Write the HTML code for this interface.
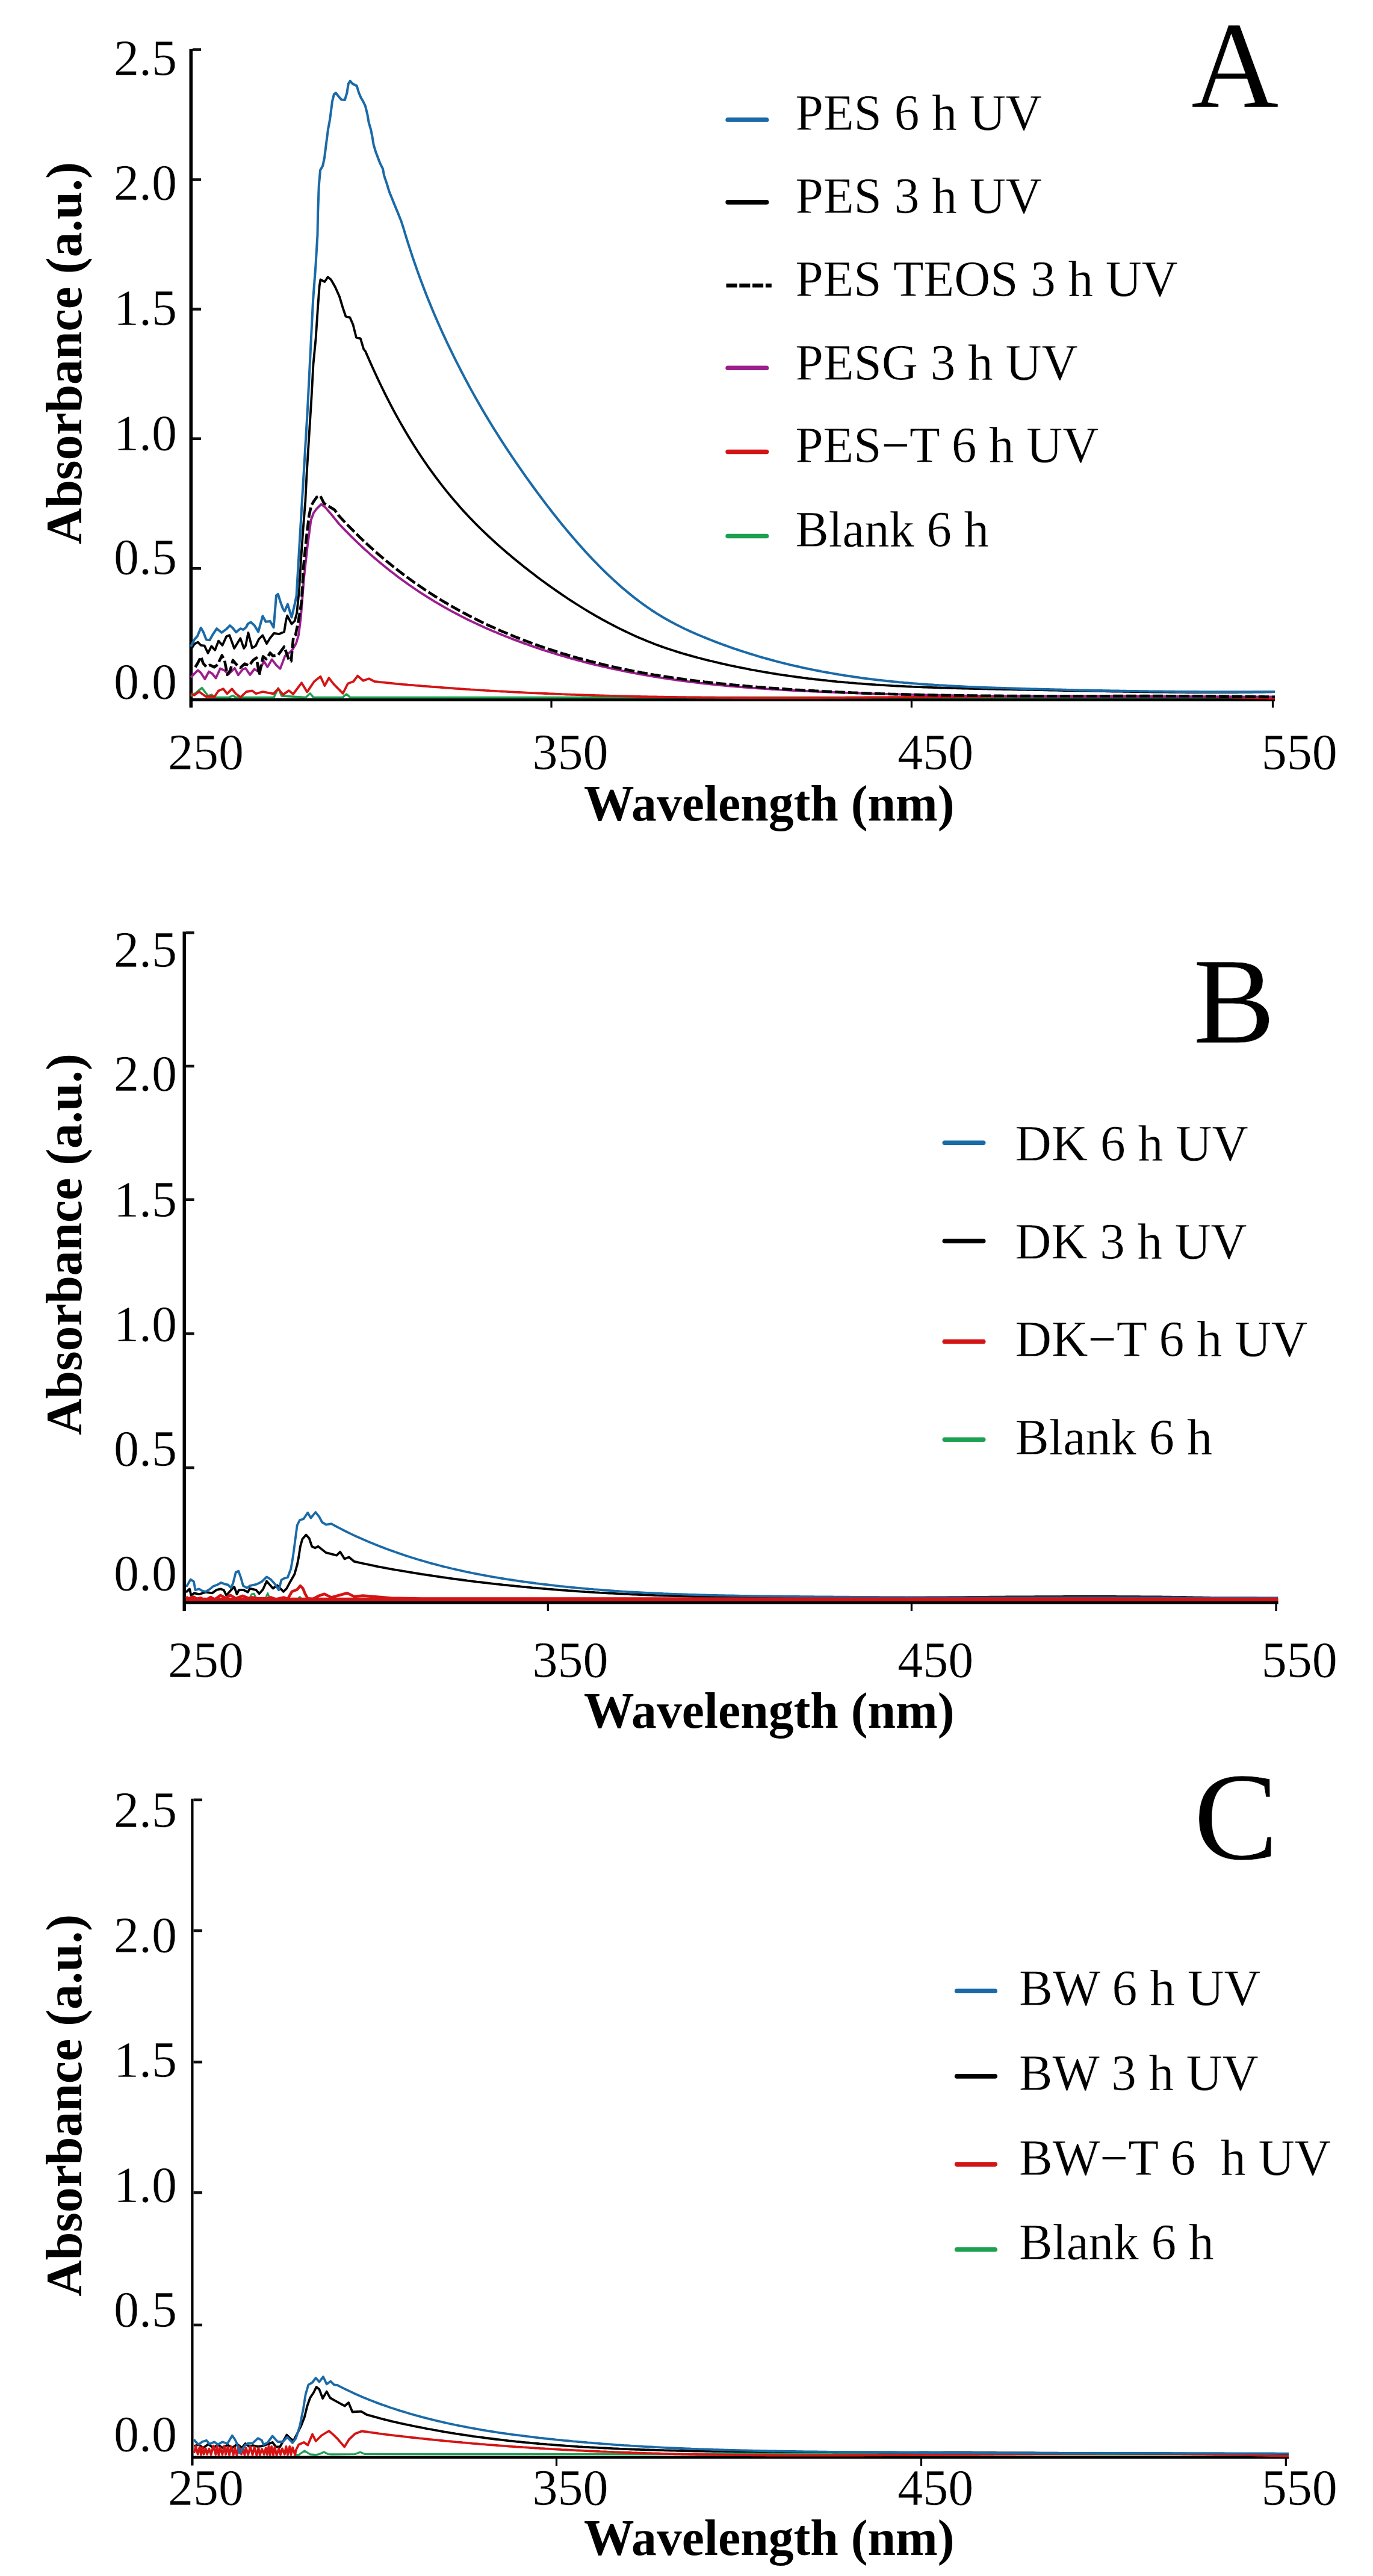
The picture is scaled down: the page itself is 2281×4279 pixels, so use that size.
<!DOCTYPE html>
<html><head><meta charset="utf-8"><title>UV-Vis absorbance spectra</title>
<style>
html,body{margin:0;padding:0;background:#fff;}
body{width:2281px;height:4279px;overflow:hidden;}
svg{display:block;}
text{font-family:"Liberation Serif","Times New Roman",serif;fill:#000;}
text.r{stroke:#fff;stroke-width:0.4px;}
</style></head><body>
<svg width="2281" height="4279" viewBox="0 0 2281 4279">
<rect width="2281" height="4279" fill="#fff"/>
<rect x="314.5" y="81" width="5.5" height="1094.5" fill="#000"/>
<rect x="320" y="80.2" width="14" height="4.6" fill="#111"/>
<rect x="320" y="296.2" width="14" height="4.6" fill="#111"/>
<rect x="320" y="511.2" width="14" height="4.6" fill="#111"/>
<rect x="320" y="726.4" width="14" height="4.6" fill="#111"/>
<rect x="320" y="942" width="14" height="4.6" fill="#111"/>
<rect x="315" y="1160" width="1803" height="5" fill="#000"/>
<rect x="914.4" y="1164.5" width="3.2" height="11" fill="#000"/>
<rect x="1512.8" y="1164.5" width="3.2" height="11" fill="#000"/>
<rect x="2112.9" y="1164.5" width="3.2" height="11" fill="#000"/>
<rect x="303.5" y="1547.5" width="5.5" height="1128.5" fill="#000"/>
<rect x="309" y="1547.2" width="13.6" height="4.6" fill="#111"/>
<rect x="309" y="1768.7" width="13.6" height="4.6" fill="#111"/>
<rect x="309" y="1990.4" width="13.6" height="4.6" fill="#111"/>
<rect x="309" y="2213.2" width="13.6" height="4.6" fill="#111"/>
<rect x="309" y="2435.7" width="13.6" height="4.6" fill="#111"/>
<rect x="304" y="2659.3" width="1819.6" height="5.2" fill="#000"/>
<rect x="908.7" y="2664" width="3.2" height="12" fill="#000"/>
<rect x="1512.8" y="2664" width="3.2" height="12" fill="#000"/>
<rect x="2118.4" y="2664" width="3.2" height="12" fill="#000"/>
<rect x="317.3" y="2987.8" width="4.2" height="1107.7" fill="#000"/>
<rect x="321.5" y="2987.5" width="14.5" height="4.6" fill="#111"/>
<rect x="321.5" y="3204.7" width="14.5" height="4.6" fill="#111"/>
<rect x="321.5" y="3422.9" width="14.5" height="4.6" fill="#111"/>
<rect x="321.5" y="3639.9" width="14.5" height="4.6" fill="#111"/>
<rect x="321.5" y="3859.7" width="14.5" height="4.6" fill="#111"/>
<rect x="318" y="4079.5" width="1823" height="4.7" fill="#000"/>
<rect x="922.9" y="4083.7" width="3.2" height="12.3" fill="#000"/>
<rect x="1528.9" y="4083.7" width="3.2" height="12.3" fill="#000"/>
<rect x="2134.7" y="4083.7" width="3.2" height="12.3" fill="#000"/>
<path d="M317 1156 L324 1152 L330 1147 L335.6 1142.7 L341 1150 L346 1156 L351.7 1153.9 L356 1158.6 L380 1158.6 L386.9 1155.5 L392 1158.6 L455 1158.6 L462.2 1143 L468 1156 L508 1158.6 L515.1 1151.8 L521 1158.6 L569 1158.6 L575.6 1153 L582 1158.6 L2118 1158.6" fill="none" stroke="#1da050" stroke-width="3.5" stroke-linejoin="round" stroke-linecap="butt"/>
<path d="M317 1152 L322.8 1154.7 L330.8 1149 L342 1157 L356.5 1157 L362.9 1147.5 L370.9 1144.3 L377.3 1152.3 L385.3 1144.3 L391.7 1152.3 L399.7 1158.2 L409.3 1149 L419 1147.5 L425.4 1152.3 L436.6 1149 L444.6 1150.7 L454.2 1152.3 L462.2 1144.3 L470.2 1153.9 L480 1147.1 L487 1153 L501 1134.3 L510.3 1149.4 L522 1132 L532.4 1123.8 L539.4 1139 L546.4 1126.1 L554.6 1136.6 L569.7 1151.8 L577.9 1135.5 L587.2 1132 L594.2 1122.6 L603.5 1130.8 L612.9 1127.3 L622.2 1132 L626.2 1132.4 L630.2 1132.9 L634.2 1133.3 L638.2 1133.7 L642.2 1134.1 L646.2 1134.5 L650.2 1134.9 L654.2 1135.3 L658.2 1135.8 L662.2 1136.2 L666.2 1136.5 L670.2 1136.9 L674.2 1137.2 L678.2 1137.6 L682.2 1137.9 L686.2 1138.2 L690.2 1138.6 L694.2 1138.9 L698.2 1139.2 L702.2 1139.6 L706.2 1139.9 L710.2 1140.2 L714.2 1140.5 L718.2 1140.8 L722.2 1141.1 L726.2 1141.4 L730.2 1141.7 L734.2 1142 L738.2 1142.3 L742.2 1142.6 L746.2 1142.9 L750.2 1143.2 L754.2 1143.5 L758.2 1143.8 L762.2 1144 L766.2 1144.3 L770.2 1144.6 L774.2 1144.9 L778.2 1145.1 L782.2 1145.4 L786.2 1145.6 L790.2 1145.9 L794.2 1146.1 L798.2 1146.4 L802.2 1146.6 L806.2 1146.9 L810.2 1147.1 L814.2 1147.4 L818.2 1147.6 L822.2 1147.8 L826.2 1148.1 L830.2 1148.3 L834.2 1148.5 L838.2 1148.7 L842.2 1148.9 L846.2 1149.2 L850.2 1149.4 L854.2 1149.6 L858.2 1149.8 L862.2 1150 L866.2 1150.2 L870.2 1150.4 L874.2 1150.6 L878.2 1150.8 L882.2 1151 L886.2 1151.1 L890.2 1151.3 L894.2 1151.5 L898.2 1151.7 L902.2 1151.9 L906.2 1152 L910.2 1152.2 L914.2 1152.4 L918.2 1152.5 L922.2 1152.7 L926.2 1152.9 L930.2 1153 L934.2 1153.2 L938.2 1153.3 L942.2 1153.5 L946.2 1153.6 L950.2 1153.8 L954.2 1153.9 L958.2 1154.1 L962.2 1154.2 L966.2 1154.3 L970.2 1154.5 L974.2 1154.6 L978.2 1154.7 L982.2 1154.9 L986.2 1155 L990.2 1155.1 L994.2 1155.2 L998.2 1155.4 L1002.2 1155.5 L1006.2 1155.6 L1010.2 1155.7 L1014.2 1155.8 L1018.2 1155.9 L1022.2 1156 L1026.2 1156.1 L1030.2 1156.2 L1034.2 1156.3 L1038.2 1156.4 L1042.2 1156.5 L1046.2 1156.6 L1050.2 1156.7 L1054.2 1156.8 L1058.2 1156.9 L1062.2 1157 L1066.2 1157.1 L1070.2 1157.1 L1074.2 1157.2 L1078.2 1157.3 L1082.2 1157.4 L1086.2 1157.4 L1090.2 1157.5 L1094.2 1157.6 L1098.2 1157.7 L1102.2 1157.7 L1106.2 1157.8 L1110.2 1157.9 L1114.2 1157.9 L1118.2 1158 L1122.2 1158 L1126.2 1158.1 L1130.2 1158.1 L1134.2 1158.2 L1138.2 1158.2 L1142.2 1158.3 L1146.2 1158.3 L1150.2 1158.4 L1154.2 1158.4 L1158.2 1158.5 L1162.2 1158.5 L1166.2 1158.6 L1170.2 1158.6 L1174.2 1158.6 L1178.2 1158.7 L1182.2 1158.7 L1186.2 1158.7 L1190.2 1158.8 L1194.2 1158.8 L1198.2 1158.8 L1202.2 1158.9 L1206.2 1158.9 L1210.2 1158.9 L1214.2 1158.9 L1218.2 1159 L1222.2 1159 L1226.2 1159 L1230.2 1159 L1234.2 1159 L1238.2 1159 L1242.2 1159.1 L1246.2 1159.1 L1250.2 1159.1 L1254.2 1159.1 L1258.2 1159.1 L1262.2 1159.1 L1266.2 1159.1 L1270.2 1159.1 L1274.2 1159.1 L1278.2 1159.1 L1282.2 1159.1 L1286.2 1159.1 L1290.2 1159.1 L1294.2 1159.1 L1298.2 1159.1 L1302.2 1159.1 L1306.2 1159.1 L1310.2 1159.1 L1314.2 1159.1 L1318.2 1159.1 L1322.2 1159.1 L1326.2 1159.1 L1330.2 1159.1 L1334.2 1159.1 L1338.2 1159.1 L1342.2 1159 L1346.2 1159 L1350.2 1159 L1354.2 1159 L1358.2 1159 L1362.2 1159 L1366.2 1158.9 L1370.2 1158.9 L1374.2 1158.9 L1378.2 1158.9 L1382.2 1158.9 L1386.2 1158.9 L1390.2 1158.8 L1394.2 1158.8 L1398.2 1158.8 L1402.2 1158.8 L1406.2 1158.7 L1410.2 1158.7 L1414.2 1158.7 L1418.2 1158.7 L1422.2 1158.6 L1426.2 1158.6 L1430.2 1158.6 L1434.2 1158.6 L1438.2 1158.5 L1442.2 1158.5 L1446.2 1158.5 L1450.2 1158.4 L1454.2 1158.4 L1458.2 1158.4 L1462.2 1158.4 L1466.2 1158.3 L1470.2 1158.3 L1474.2 1158.3 L1478.2 1158.2 L1482.2 1158.2 L1486.2 1158.2 L1490.2 1158.1 L1494.2 1158.1 L1498.2 1158.1 L1502.2 1158 L1506.2 1158 L1510.2 1158 L1514.2 1157.9 L1518.2 1157.9 L1522.2 1157.9 L1526.2 1157.8 L1530.2 1157.8 L1534.2 1157.8 L1538.2 1157.7 L1542.2 1157.7 L1546.2 1157.7 L1550.2 1157.6 L1554.2 1157.6 L1558.2 1157.6 L1562.2 1157.5 L1566.2 1157.5 L1570.2 1157.5 L1574.2 1157.4 L1578.2 1157.4 L1582.2 1157.4 L1586.2 1157.3 L1590.2 1157.3 L1594.2 1157.2 L1598.2 1157.2 L1602.2 1157.2 L1606.2 1157.1 L1610.2 1157.1 L1614.2 1157.1 L1618.2 1157.1 L1622.2 1157 L1626.2 1157 L1630.2 1157 L1634.2 1156.9 L1638.2 1156.9 L1642.2 1156.9 L1646.2 1156.8 L1650.2 1156.8 L1654.2 1156.8 L1658.2 1156.7 L1662.2 1156.7 L1666.2 1156.7 L1670.2 1156.7 L1674.2 1156.6 L1678.2 1156.6 L1682.2 1156.6 L1686.2 1156.6 L1690.2 1156.5 L1694.2 1156.5 L1698.2 1156.5 L1702.2 1156.5 L1706.2 1156.4 L1710.2 1156.4 L1714.2 1156.4 L1718.2 1156.4 L1722.2 1156.3 L1726.2 1156.3 L1730.2 1156.3 L1734.2 1156.3 L1738.2 1156.3 L1742.2 1156.3 L1746.2 1156.2 L1750.2 1156.2 L1754.2 1156.2 L1758.2 1156.2 L1762.2 1156.2 L1766.2 1156.2 L1770.2 1156.2 L1774.2 1156.1 L1778.2 1156.1 L1782.2 1156.1 L1786.2 1156.1 L1790.2 1156.1 L1794.2 1156.1 L1798.2 1156.1 L1802.2 1156.1 L1806.2 1156.1 L1810.2 1156.1 L1814.2 1156.1 L1818.2 1156.1 L1822.2 1156.1 L1826.2 1156.1 L1830.2 1156.1 L1834.2 1156.1 L1838.2 1156.1 L1842.2 1156.1 L1846.2 1156.1 L1850.2 1156.1 L1854.2 1156.1 L1858.2 1156.1 L1862.2 1156.2 L1866.2 1156.2 L1870.2 1156.2 L1874.2 1156.2 L1878.2 1156.2 L1882.2 1156.2 L1886.2 1156.3 L1890.2 1156.3 L1894.2 1156.3 L1898.2 1156.3 L1902.2 1156.4 L1906.2 1156.4 L1910.2 1156.4 L1914.2 1156.4 L1918.2 1156.5 L1922.2 1156.5 L1926.2 1156.5 L1930.2 1156.6 L1934.2 1156.6 L1938.2 1156.7 L1942.2 1156.7 L1946.2 1156.7 L1950.2 1156.8 L1954.2 1156.8 L1958.2 1156.9 L1962.2 1156.9 L1966.2 1157 L1970.2 1157 L1974.2 1157.1 L1978.2 1157.1 L1982.2 1157.2 L1986.2 1157.2 L1990.2 1157.3 L1994.2 1157.4 L1998.2 1157.4 L2002.2 1157.5 L2006.2 1157.6 L2010.2 1157.6 L2014.2 1157.7 L2018.2 1157.8 L2022.2 1157.8 L2026.2 1157.9 L2030.2 1158 L2034.2 1158.1 L2038.2 1158.2 L2042.2 1158.2 L2046.2 1158.3 L2050.2 1158.4 L2054.2 1158.5 L2058.2 1158.6 L2062.2 1158.7 L2066.2 1158.8 L2070.2 1158.9 L2074.2 1159 L2078.2 1159.1 L2082.2 1159.2 L2086.2 1159.3 L2090.2 1159.4 L2094.2 1159.5 L2098.2 1159.6 L2102.2 1159.7 L2106.2 1159.8 L2110.2 1160 L2114.2 1160.1 L2118 1160.2" fill="none" stroke="#d41414" stroke-width="3.8" stroke-linejoin="round"/>
<path d="M317 1125.1 L322.9 1119.2 L328.8 1113.4 L333.8 1117.8 L340.4 1128 L347 1115.6 L352.8 1119.2 L358.6 1126.5 L365.9 1110.5 L372.5 1113.4 L379.7 1120 L389.9 1109.8 L395.8 1121.4 L403 1112 L408 1110 L415.3 1121 L422.6 1111.5 L429.8 1115.9 L438.6 1098.4 L444.4 1107.9 L451.7 1095.5 L459 1104.9 L465.5 1110.8 L473.5 1089.6 L477.9 1086.7 L485.2 1080.2 L491.8 1069.2 L496.1 1054.7 L499.8 1025.5 L505 960 L510.4 910.6 L516.6 864 L521 852 L525.9 845.3 L533.7 837.6 L539.9 842.2 L550.7 854.7 L563.2 870.2 L567.2 874.4 L571.2 878.6 L575.2 882.7 L579.2 886.7 L583.2 890.8 L587.2 894.7 L591.2 898.6 L595.2 902.4 L599.2 906.2 L603.2 910 L607.2 913.6 L611.2 917.2 L615.2 920.8 L619.2 924.3 L623.2 927.7 L627.2 931.1 L631.2 934.5 L635.2 937.8 L639.2 941 L643.2 944.3 L647.2 947.4 L651.2 950.6 L655.2 953.6 L659.2 956.7 L663.2 959.7 L667.2 962.6 L671.2 965.5 L675.2 968.4 L679.2 971.2 L683.2 974 L687.2 976.8 L691.2 979.5 L695.2 982.2 L699.2 984.8 L703.2 987.4 L707.2 989.9 L711.2 992.5 L715.2 994.9 L719.2 997.4 L723.2 999.8 L727.2 1002.2 L731.2 1004.5 L735.2 1006.8 L739.2 1009.1 L743.2 1011.4 L747.2 1013.6 L751.2 1015.8 L755.2 1017.9 L759.2 1020 L763.2 1022.1 L767.2 1024.2 L771.2 1026.2 L775.2 1028.2 L779.2 1030.2 L783.2 1032.1 L787.2 1034 L791.2 1035.9 L795.2 1037.8 L799.2 1039.6 L803.2 1041.4 L807.2 1043.2 L811.2 1045 L815.2 1046.7 L819.2 1048.4 L823.2 1050.1 L827.2 1051.8 L831.2 1053.5 L835.2 1055.1 L839.2 1056.7 L843.2 1058.3 L847.2 1059.8 L851.2 1061.4 L855.2 1062.9 L859.2 1064.4 L863.2 1065.9 L867.2 1067.4 L871.2 1068.9 L875.2 1070.3 L879.2 1071.7 L883.2 1073.1 L887.2 1074.5 L891.2 1075.9 L895.2 1077.2 L899.2 1078.6 L903.2 1079.9 L907.2 1081.2 L911.2 1082.5 L915.2 1083.7 L919.2 1085 L923.2 1086.2 L927.2 1087.4 L931.2 1088.6 L935.2 1089.8 L939.2 1091 L943.2 1092.1 L947.2 1093.3 L951.2 1094.4 L955.2 1095.5 L959.2 1096.6 L963.2 1097.7 L967.2 1098.7 L971.2 1099.8 L975.2 1100.8 L979.2 1101.8 L983.2 1102.8 L987.2 1103.8 L991.2 1104.8 L995.2 1105.7 L999.2 1106.7 L1003.2 1107.6 L1007.2 1108.5 L1011.2 1109.4 L1015.2 1110.3 L1019.2 1111.2 L1023.2 1112 L1027.2 1112.9 L1031.2 1113.7 L1035.2 1114.5 L1039.2 1115.3 L1043.2 1116.1 L1047.2 1116.9 L1051.2 1117.7 L1055.2 1118.4 L1059.2 1119.2 L1063.2 1119.9 L1067.2 1120.6 L1071.2 1121.3 L1075.2 1122 L1079.2 1122.7 L1083.2 1123.4 L1087.2 1124 L1091.2 1124.7 L1095.2 1125.3 L1099.2 1125.9 L1103.2 1126.6 L1107.2 1127.2 L1111.2 1127.8 L1115.2 1128.3 L1119.2 1128.9 L1123.2 1129.5 L1127.2 1130 L1131.2 1130.6 L1135.2 1131.1 L1139.2 1131.6 L1143.2 1132.1 L1147.2 1132.6 L1151.2 1133.1 L1155.2 1133.6 L1159.2 1134.1 L1163.2 1134.6 L1167.2 1135 L1171.2 1135.5 L1175.2 1135.9 L1179.2 1136.3 L1183.2 1136.8 L1187.2 1137.2 L1191.2 1137.6 L1195.2 1138 L1199.2 1138.4 L1203.2 1138.8 L1207.2 1139.1 L1211.2 1139.5 L1215.2 1139.9 L1219.2 1140.2 L1223.2 1140.6 L1227.2 1140.9 L1231.2 1141.2 L1235.2 1141.5 L1239.2 1141.9 L1243.2 1142.2 L1247.2 1142.5 L1251.2 1142.8 L1255.2 1143.1 L1259.2 1143.4 L1263.2 1143.6 L1267.2 1143.9 L1271.2 1144.2 L1275.2 1144.4 L1279.2 1144.7 L1283.2 1145 L1287.2 1145.2 L1291.2 1145.4 L1295.2 1145.7 L1299.2 1145.9 L1303.2 1146.1 L1307.2 1146.4 L1311.2 1146.6 L1315.2 1146.8 L1319.2 1147 L1323.2 1147.2 L1327.2 1147.4 L1331.2 1147.6 L1335.2 1147.8 L1339.2 1148 L1343.2 1148.2 L1347.2 1148.4 L1351.2 1148.5 L1355.2 1148.7 L1359.2 1148.9 L1363.2 1149.1 L1367.2 1149.2 L1371.2 1149.4 L1375.2 1149.6 L1379.2 1149.7 L1383.2 1149.9 L1387.2 1150 L1391.2 1150.2 L1395.2 1150.3 L1399.2 1150.5 L1403.2 1150.6 L1407.2 1150.8 L1411.2 1150.9 L1415.2 1151.1 L1419.2 1151.2 L1423.2 1151.4 L1427.2 1151.5 L1431.2 1151.6 L1435.2 1151.8 L1439.2 1151.9 L1443.2 1152 L1447.2 1152.1 L1451.2 1152.3 L1455.2 1152.4 L1459.2 1152.5 L1463.2 1152.6 L1467.2 1152.7 L1471.2 1152.8 L1475.2 1152.9 L1479.2 1153.1 L1483.2 1153.2 L1487.2 1153.3 L1491.2 1153.4 L1495.2 1153.5 L1499.2 1153.6 L1503.2 1153.7 L1507.2 1153.8 L1511.2 1153.9 L1515.2 1153.9 L1519.2 1154 L1523.2 1154.1 L1527.2 1154.2 L1531.2 1154.3 L1535.2 1154.4 L1539.2 1154.5 L1543.2 1154.5 L1547.2 1154.6 L1551.2 1154.7 L1555.2 1154.8 L1559.2 1154.8 L1563.2 1154.9 L1567.2 1155 L1571.2 1155.1 L1575.2 1155.1 L1579.2 1155.2 L1583.2 1155.2 L1587.2 1155.3 L1591.2 1155.4 L1595.2 1155.4 L1599.2 1155.5 L1603.2 1155.6 L1607.2 1155.6 L1611.2 1155.7 L1615.2 1155.7 L1619.2 1155.8 L1623.2 1155.8 L1627.2 1155.9 L1631.2 1155.9 L1635.2 1156 L1639.2 1156 L1643.2 1156 L1647.2 1156.1 L1651.2 1156.1 L1655.2 1156.2 L1659.2 1156.2 L1663.2 1156.3 L1667.2 1156.3 L1671.2 1156.3 L1675.2 1156.4 L1679.2 1156.4 L1683.2 1156.4 L1687.2 1156.5 L1691.2 1156.5 L1695.2 1156.5 L1699.2 1156.6 L1703.2 1156.6 L1707.2 1156.6 L1711.2 1156.6 L1715.2 1156.7 L1719.2 1156.7 L1723.2 1156.7 L1727.2 1156.7 L1731.2 1156.7 L1735.2 1156.8 L1739.2 1156.8 L1743.2 1156.8 L1747.2 1156.8 L1751.2 1156.8 L1755.2 1156.9 L1759.2 1156.9 L1763.2 1156.9 L1767.2 1156.9 L1771.2 1156.9 L1775.2 1156.9 L1779.2 1156.9 L1783.2 1157 L1787.2 1157 L1791.2 1157 L1795.2 1157 L1799.2 1157 L1803.2 1157 L1807.2 1157 L1811.2 1157 L1815.2 1157 L1819.2 1157 L1823.2 1157.1 L1827.2 1157.1 L1831.2 1157.1 L1835.2 1157.1 L1839.2 1157.1 L1843.2 1157.1 L1847.2 1157.1 L1851.2 1157.1 L1855.2 1157.1 L1859.2 1157.1 L1863.2 1157.1 L1867.2 1157.1 L1871.2 1157.1 L1875.2 1157.1 L1879.2 1157.1 L1883.2 1157.1 L1887.2 1157.1 L1891.2 1157.1 L1895.2 1157.1 L1899.2 1157.1 L1903.2 1157.1 L1907.2 1157.1 L1911.2 1157.1 L1915.2 1157.1 L1919.2 1157.1 L1923.2 1157.1 L1927.2 1157.1 L1931.2 1157.1 L1935.2 1157.1 L1939.2 1157.1 L1943.2 1157.1 L1947.2 1157.1 L1951.2 1157.1 L1955.2 1157.1 L1959.2 1157.1 L1963.2 1157.1 L1967.2 1157.1 L1971.2 1157.1 L1975.2 1157.1 L1979.2 1157.1 L1983.2 1157.1 L1987.2 1157.1 L1991.2 1157.1 L1995.2 1157.2 L1999.2 1157.2 L2003.2 1157.2 L2007.2 1157.2 L2011.2 1157.2 L2015.2 1157.2 L2019.2 1157.2 L2023.2 1157.2 L2027.2 1157.2 L2031.2 1157.2 L2035.2 1157.2 L2039.2 1157.2 L2043.2 1157.2 L2047.2 1157.2 L2051.2 1157.2 L2055.2 1157.2 L2059.2 1157.3 L2063.2 1157.3 L2067.2 1157.3 L2071.2 1157.3 L2075.2 1157.3 L2079.2 1157.3 L2083.2 1157.3 L2087.2 1157.3 L2091.2 1157.4 L2095.2 1157.4 L2099.2 1157.4 L2103.2 1157.4 L2107.2 1157.4 L2111.2 1157.4 L2115.2 1157.5 L2118 1157.5" fill="none" stroke="#9c1e8c" stroke-width="3.8" stroke-linejoin="round"/>
<path d="M324.4 1108.3 L328.8 1101 L333.8 1090.8 L337.5 1101.8 L342.6 1107.6 L349.1 1104.7 L355.7 1108.3 L361.5 1104 L368.8 1088.7 L373.2 1097.4 L377.6 1120.7 L382.6 1113.4 L387 1096.7 L392.1 1103.2 L399.4 1109 L406.7 1102.5 L413.8 1105.7 L420.4 1096.9 L426.2 1092.6 L430.6 1121 L437.1 1090.4 L442.2 1094.7 L448.8 1084.5 L453.2 1089.6 L461.9 1088.2 L472.1 1074.3 L480.1 1096.2 L483.7 1098.4 L487.4 1058.3 L491 1054.7 L496 1030 L501 1000 L504.2 941.6 L508.8 895 L513.5 856.2 L517 840 L521.2 832.9 L526 826 L532.1 823.6 L538.3 836 L550.7 843.8 L556 847 L562.7 856.4 L566.7 860.7 L570.7 865 L574.7 869.2 L578.7 873.3 L582.7 877.4 L586.7 881.4 L590.7 885.4 L594.7 889.4 L598.7 893.3 L602.7 897.1 L606.7 900.9 L610.7 904.6 L614.7 908.2 L618.7 911.8 L622.7 915.4 L626.7 918.9 L630.7 922.4 L634.7 925.8 L638.7 929.1 L642.7 932.5 L646.7 935.8 L650.7 939 L654.7 942.2 L658.7 945.4 L662.7 948.5 L666.7 951.6 L670.7 954.6 L674.7 957.6 L678.7 960.5 L682.7 963.4 L686.7 966.3 L690.7 969.1 L694.7 971.9 L698.7 974.7 L702.7 977.4 L706.7 980.1 L710.7 982.7 L714.7 985.4 L718.7 987.9 L722.7 990.5 L726.7 993 L730.7 995.4 L734.7 997.9 L738.7 1000.3 L742.7 1002.6 L746.7 1005 L750.7 1007.3 L754.7 1009.5 L758.7 1011.8 L762.7 1014 L766.7 1016.2 L770.7 1018.3 L774.7 1020.4 L778.7 1022.5 L782.7 1024.6 L786.7 1026.6 L790.7 1028.6 L794.7 1030.6 L798.7 1032.6 L802.7 1034.5 L806.7 1036.4 L810.7 1038.3 L814.7 1040.1 L818.7 1041.9 L822.7 1043.7 L826.7 1045.5 L830.7 1047.3 L834.7 1049 L838.7 1050.7 L842.7 1052.4 L846.7 1054 L850.7 1055.7 L854.7 1057.3 L858.7 1058.9 L862.7 1060.5 L866.7 1062 L870.7 1063.6 L874.7 1065.1 L878.7 1066.6 L882.7 1068.1 L886.7 1069.5 L890.7 1071 L894.7 1072.4 L898.7 1073.8 L902.7 1075.2 L906.7 1076.6 L910.7 1077.9 L914.7 1079.2 L918.7 1080.5 L922.7 1081.8 L926.7 1083.1 L930.7 1084.3 L934.7 1085.6 L938.7 1086.8 L942.7 1088 L946.7 1089.2 L950.7 1090.3 L954.7 1091.5 L958.7 1092.6 L962.7 1093.7 L966.7 1094.8 L970.7 1095.9 L974.7 1097 L978.7 1098 L982.7 1099.1 L986.7 1100.1 L990.7 1101.1 L994.7 1102.1 L998.7 1103 L1002.7 1104 L1006.7 1104.9 L1010.7 1105.9 L1014.7 1106.8 L1018.7 1107.7 L1022.7 1108.6 L1026.7 1109.4 L1030.7 1110.3 L1034.7 1111.1 L1038.7 1112 L1042.7 1112.8 L1046.7 1113.6 L1050.7 1114.4 L1054.7 1115.1 L1058.7 1115.9 L1062.7 1116.6 L1066.7 1117.4 L1070.7 1118.1 L1074.7 1118.8 L1078.7 1119.5 L1082.7 1120.2 L1086.7 1120.9 L1090.7 1121.5 L1094.7 1122.2 L1098.7 1122.8 L1102.7 1123.5 L1106.7 1124.1 L1110.7 1124.7 L1114.7 1125.3 L1118.7 1125.9 L1122.7 1126.5 L1126.7 1127 L1130.7 1127.6 L1134.7 1128.1 L1138.7 1128.7 L1142.7 1129.2 L1146.7 1129.7 L1150.7 1130.2 L1154.7 1130.7 L1158.7 1131.2 L1162.7 1131.7 L1166.7 1132.2 L1170.7 1132.7 L1174.7 1133.1 L1178.7 1133.6 L1182.7 1134 L1186.7 1134.5 L1190.7 1134.9 L1194.7 1135.3 L1198.7 1135.7 L1202.7 1136.1 L1206.7 1136.5 L1210.7 1136.9 L1214.7 1137.3 L1218.7 1137.7 L1222.7 1138.1 L1226.7 1138.4 L1230.7 1138.8 L1234.7 1139.1 L1238.7 1139.5 L1242.7 1139.8 L1246.7 1140.2 L1250.7 1140.5 L1254.7 1140.8 L1258.7 1141.2 L1262.7 1141.5 L1266.7 1141.8 L1270.7 1142.1 L1274.7 1142.4 L1278.7 1142.7 L1282.7 1143 L1286.7 1143.3 L1290.7 1143.6 L1294.7 1143.9 L1298.7 1144.2 L1302.7 1144.4 L1306.7 1144.7 L1310.7 1145 L1314.7 1145.2 L1318.7 1145.5 L1322.7 1145.8 L1326.7 1146 L1330.7 1146.2 L1334.7 1146.5 L1338.7 1146.7 L1342.7 1147 L1346.7 1147.2 L1350.7 1147.4 L1354.7 1147.7 L1358.7 1147.9 L1362.7 1148.1 L1366.7 1148.3 L1370.7 1148.5 L1374.7 1148.7 L1378.7 1148.9 L1382.7 1149.1 L1386.7 1149.3 L1390.7 1149.5 L1394.7 1149.7 L1398.7 1149.9 L1402.7 1150.1 L1406.7 1150.2 L1410.7 1150.4 L1414.7 1150.6 L1418.7 1150.7 L1422.7 1150.9 L1426.7 1151.1 L1430.7 1151.2 L1434.7 1151.4 L1438.7 1151.5 L1442.7 1151.7 L1446.7 1151.8 L1450.7 1152 L1454.7 1152.1 L1458.7 1152.2 L1462.7 1152.4 L1466.7 1152.5 L1470.7 1152.6 L1474.7 1152.7 L1478.7 1152.9 L1482.7 1153 L1486.7 1153.1 L1490.7 1153.2 L1494.7 1153.3 L1498.7 1153.4 L1502.7 1153.5 L1506.7 1153.6 L1510.7 1153.7 L1514.7 1153.8 L1518.7 1153.9 L1522.7 1154 L1526.7 1154.1 L1530.7 1154.2 L1534.7 1154.3 L1538.7 1154.4 L1542.7 1154.5 L1546.7 1154.5 L1550.7 1154.6 L1554.7 1154.7 L1558.7 1154.8 L1562.7 1154.8 L1566.7 1154.9 L1570.7 1155 L1574.7 1155 L1578.7 1155.1 L1582.7 1155.1 L1586.7 1155.2 L1590.7 1155.2 L1594.7 1155.3 L1598.7 1155.3 L1602.7 1155.4 L1606.7 1155.4 L1610.7 1155.5 L1614.7 1155.5 L1618.7 1155.6 L1622.7 1155.6 L1626.7 1155.7 L1630.7 1155.7 L1634.7 1155.7 L1638.7 1155.8 L1642.7 1155.8 L1646.7 1155.8 L1650.7 1155.9 L1654.7 1155.9 L1658.7 1155.9 L1662.7 1155.9 L1666.7 1156 L1670.7 1156 L1674.7 1156 L1678.7 1156 L1682.7 1156 L1686.7 1156.1 L1690.7 1156.1 L1694.7 1156.1 L1698.7 1156.1 L1702.7 1156.1 L1706.7 1156.1 L1710.7 1156.1 L1714.7 1156.2 L1718.7 1156.2 L1722.7 1156.2 L1726.7 1156.2 L1730.7 1156.2 L1734.7 1156.2 L1738.7 1156.2 L1742.7 1156.2 L1746.7 1156.2 L1750.7 1156.2 L1754.7 1156.2 L1758.7 1156.2 L1762.7 1156.2 L1766.7 1156.2 L1770.7 1156.2 L1774.7 1156.2 L1778.7 1156.2 L1782.7 1156.2 L1786.7 1156.2 L1790.7 1156.2 L1794.7 1156.2 L1798.7 1156.2 L1802.7 1156.2 L1806.7 1156.2 L1810.7 1156.2 L1814.7 1156.2 L1818.7 1156.2 L1822.7 1156.2 L1826.7 1156.2 L1830.7 1156.2 L1834.7 1156.2 L1838.7 1156.2 L1842.7 1156.2 L1846.7 1156.2 L1850.7 1156.1 L1854.7 1156.1 L1858.7 1156.1 L1862.7 1156.1 L1866.7 1156.1 L1870.7 1156.1 L1874.7 1156.1 L1878.7 1156.1 L1882.7 1156.1 L1886.7 1156.1 L1890.7 1156.1 L1894.7 1156.1 L1898.7 1156.1 L1902.7 1156.1 L1906.7 1156.1 L1910.7 1156.1 L1914.7 1156.1 L1918.7 1156.1 L1922.7 1156.1 L1926.7 1156.1 L1930.7 1156.1 L1934.7 1156.1 L1938.7 1156.2 L1942.7 1156.2 L1946.7 1156.2 L1950.7 1156.2 L1954.7 1156.2 L1958.7 1156.2 L1962.7 1156.2 L1966.7 1156.2 L1970.7 1156.2 L1974.7 1156.3 L1978.7 1156.3 L1982.7 1156.3 L1986.7 1156.3 L1990.7 1156.3 L1994.7 1156.3 L1998.7 1156.4 L2002.7 1156.4 L2006.7 1156.4 L2010.7 1156.4 L2014.7 1156.5 L2018.7 1156.5 L2022.7 1156.5 L2026.7 1156.6 L2030.7 1156.6 L2034.7 1156.6 L2038.7 1156.7 L2042.7 1156.7 L2046.7 1156.8 L2050.7 1156.8 L2054.7 1156.8 L2058.7 1156.9 L2062.7 1156.9 L2066.7 1157 L2070.7 1157 L2074.7 1157.1 L2078.7 1157.1 L2082.7 1157.2 L2086.7 1157.3 L2090.7 1157.3 L2094.7 1157.4 L2098.7 1157.4 L2102.7 1157.5 L2106.7 1157.6 L2110.7 1157.7 L2114.7 1157.7 L2118 1157.8" fill="none" stroke="#000" stroke-width="4.6" stroke-linejoin="round" stroke-dasharray="17 5"/>
<path d="M317 1079.2 L322.9 1069.7 L328.8 1066.8 L333.8 1071.9 L339.7 1072.6 L345.5 1085 L351.3 1073.4 L357.2 1079.9 L363 1064.6 L369.5 1071.9 L376.1 1057.3 L381.2 1055.2 L389.2 1077 L399.4 1060.3 L405.2 1077 L408 1073 L412.4 1051 L418.9 1076.5 L424.8 1072.9 L429.8 1062 L436.4 1055.4 L443 1069.2 L448.8 1059.8 L455.3 1051.8 L463.4 1053.2 L472.1 1049.6 L475 1031.4 L477.2 1022.6 L484.5 1036.5 L489.6 1031.4 L493.2 1018.3 L497 980 L500 930 L503.5 880 L507.3 832.9 L509.6 786.3 L513.5 724.2 L517.4 662.1 L520.5 605 L524.6 562.4 L528.1 509.9 L530.7 475 L532.4 464.5 L539.4 468 L544.7 460.1 L549.9 464.5 L556.9 476.7 L563.9 492.4 L569.1 509.9 L574.4 525.7 L581.4 527.4 L586.6 539.6 L591.9 560.6 L598.9 562.4 L604.1 579.8 L607.3 583.9 L611.3 593.2 L615.3 602.3 L619.3 611.2 L623.3 620 L627.3 628.6 L631.3 637 L635.3 645.3 L639.3 653.4 L643.3 661.3 L647.3 669.2 L651.3 676.8 L655.3 684.3 L659.3 691.6 L663.3 698.8 L667.3 705.8 L671.3 712.8 L675.3 719.6 L679.3 726.2 L683.3 732.8 L687.3 739.2 L691.3 745.5 L695.3 751.7 L699.3 757.7 L703.3 763.7 L707.3 769.5 L711.3 775.3 L715.3 780.9 L719.3 786.4 L723.3 791.9 L727.3 797.2 L731.3 802.4 L735.3 807.6 L739.3 812.6 L743.3 817.6 L747.3 822.5 L751.3 827.3 L755.3 832 L759.3 836.6 L763.3 841.2 L767.3 845.7 L771.3 850.1 L775.3 854.4 L779.3 858.7 L783.3 862.9 L787.3 867 L791.3 871.1 L795.3 875.1 L799.3 879 L803.3 882.9 L807.3 886.7 L811.3 890.5 L815.3 894.2 L819.3 897.9 L823.3 901.5 L827.3 905.1 L831.3 908.6 L835.3 912.1 L839.3 915.5 L843.3 919 L847.3 922.3 L851.3 925.7 L855.3 929 L859.3 932.2 L863.3 935.5 L867.3 938.7 L871.3 941.9 L875.3 945 L879.3 948.2 L883.3 951.3 L887.3 954.3 L891.3 957.4 L895.3 960.4 L899.3 963.4 L903.3 966.3 L907.3 969.2 L911.3 972.1 L915.3 975 L919.3 977.8 L923.3 980.6 L927.3 983.4 L931.3 986.1 L935.3 988.9 L939.3 991.5 L943.3 994.2 L947.3 996.8 L951.3 999.4 L955.3 1002 L959.3 1004.5 L963.3 1007 L967.3 1009.5 L971.3 1012 L975.3 1014.4 L979.3 1016.8 L983.3 1019.1 L987.3 1021.5 L991.3 1023.8 L995.3 1026 L999.3 1028.3 L1003.3 1030.5 L1007.3 1032.6 L1011.3 1034.8 L1015.3 1036.9 L1019.3 1039 L1023.3 1041.1 L1027.3 1043.1 L1031.3 1045.1 L1035.3 1047 L1039.3 1049 L1043.3 1050.9 L1047.3 1052.7 L1051.3 1054.6 L1055.3 1056.4 L1059.3 1058.2 L1063.3 1059.9 L1067.3 1061.6 L1071.3 1063.3 L1075.3 1064.9 L1079.3 1066.5 L1083.3 1068.1 L1087.3 1069.7 L1091.3 1071.2 L1095.3 1072.6 L1099.3 1074.1 L1103.3 1075.5 L1107.3 1076.9 L1111.3 1078.2 L1115.3 1079.5 L1119.3 1080.8 L1123.3 1082.1 L1127.3 1083.4 L1131.3 1084.6 L1135.3 1085.8 L1139.3 1086.9 L1143.3 1088.1 L1147.3 1089.2 L1151.3 1090.3 L1155.3 1091.4 L1159.3 1092.5 L1163.3 1093.5 L1167.3 1094.6 L1171.3 1095.6 L1175.3 1096.6 L1179.3 1097.6 L1183.3 1098.5 L1187.3 1099.5 L1191.3 1100.4 L1195.3 1101.4 L1199.3 1102.3 L1203.3 1103.2 L1207.3 1104.1 L1211.3 1105 L1215.3 1105.8 L1219.3 1106.7 L1223.3 1107.5 L1227.3 1108.3 L1231.3 1109.2 L1235.3 1109.9 L1239.3 1110.7 L1243.3 1111.5 L1247.3 1112.3 L1251.3 1113 L1255.3 1113.7 L1259.3 1114.5 L1263.3 1115.2 L1267.3 1115.9 L1271.3 1116.6 L1275.3 1117.2 L1279.3 1117.9 L1283.3 1118.6 L1287.3 1119.2 L1291.3 1119.8 L1295.3 1120.5 L1299.3 1121.1 L1303.3 1121.7 L1307.3 1122.2 L1311.3 1122.8 L1315.3 1123.4 L1319.3 1123.9 L1323.3 1124.5 L1327.3 1125 L1331.3 1125.5 L1335.3 1126.1 L1339.3 1126.6 L1343.3 1127.1 L1347.3 1127.5 L1351.3 1128 L1355.3 1128.5 L1359.3 1128.9 L1363.3 1129.4 L1367.3 1129.8 L1371.3 1130.2 L1375.3 1130.7 L1379.3 1131.1 L1383.3 1131.5 L1387.3 1131.9 L1391.3 1132.3 L1395.3 1132.6 L1399.3 1133 L1403.3 1133.4 L1407.3 1133.7 L1411.3 1134.1 L1415.3 1134.4 L1419.3 1134.7 L1423.3 1135.1 L1427.3 1135.4 L1431.3 1135.7 L1435.3 1136 L1439.3 1136.3 L1443.3 1136.6 L1447.3 1136.8 L1451.3 1137.1 L1455.3 1137.4 L1459.3 1137.6 L1463.3 1137.9 L1467.3 1138.1 L1471.3 1138.4 L1475.3 1138.6 L1479.3 1138.8 L1483.3 1139.1 L1487.3 1139.3 L1491.3 1139.5 L1495.3 1139.7 L1499.3 1139.9 L1503.3 1140.1 L1507.3 1140.3 L1511.3 1140.5 L1515.3 1140.7 L1519.3 1140.8 L1523.3 1141 L1527.3 1141.2 L1531.3 1141.3 L1535.3 1141.5 L1539.3 1141.6 L1543.3 1141.8 L1547.3 1141.9 L1551.3 1142.1 L1555.3 1142.2 L1559.3 1142.3 L1563.3 1142.5 L1567.3 1142.6 L1571.3 1142.7 L1575.3 1142.9 L1579.3 1143 L1583.3 1143.1 L1587.3 1143.2 L1591.3 1143.3 L1595.3 1143.4 L1599.3 1143.5 L1603.3 1143.6 L1607.3 1143.7 L1611.3 1143.8 L1615.3 1143.9 L1619.3 1144 L1623.3 1144.1 L1627.3 1144.2 L1631.3 1144.3 L1635.3 1144.3 L1639.3 1144.4 L1643.3 1144.5 L1647.3 1144.6 L1651.3 1144.7 L1655.3 1144.8 L1659.3 1144.8 L1663.3 1144.9 L1667.3 1145 L1671.3 1145.1 L1675.3 1145.1 L1679.3 1145.2 L1683.3 1145.3 L1687.3 1145.4 L1691.3 1145.5 L1695.3 1145.5 L1699.3 1145.6 L1703.3 1145.7 L1707.3 1145.8 L1711.3 1145.8 L1715.3 1145.9 L1719.3 1146 L1723.3 1146.1 L1727.3 1146.2 L1731.3 1146.2 L1735.3 1146.3 L1739.3 1146.4 L1743.3 1146.5 L1747.3 1146.6 L1751.3 1146.6 L1755.3 1146.7 L1759.3 1146.8 L1763.3 1146.9 L1767.3 1147 L1771.3 1147 L1775.3 1147.1 L1779.3 1147.2 L1783.3 1147.3 L1787.3 1147.3 L1791.3 1147.4 L1795.3 1147.5 L1799.3 1147.6 L1803.3 1147.7 L1807.3 1147.7 L1811.3 1147.8 L1815.3 1147.9 L1819.3 1148 L1823.3 1148 L1827.3 1148.1 L1831.3 1148.2 L1835.3 1148.2 L1839.3 1148.3 L1843.3 1148.4 L1847.3 1148.5 L1851.3 1148.5 L1855.3 1148.6 L1859.3 1148.7 L1863.3 1148.7 L1867.3 1148.8 L1871.3 1148.8 L1875.3 1148.9 L1879.3 1149 L1883.3 1149 L1887.3 1149.1 L1891.3 1149.1 L1895.3 1149.2 L1899.3 1149.3 L1903.3 1149.3 L1907.3 1149.4 L1911.3 1149.4 L1915.3 1149.5 L1919.3 1149.5 L1923.3 1149.6 L1927.3 1149.6 L1931.3 1149.6 L1935.3 1149.7 L1939.3 1149.7 L1943.3 1149.8 L1947.3 1149.8 L1951.3 1149.8 L1955.3 1149.9 L1959.3 1149.9 L1963.3 1149.9 L1967.3 1149.9 L1971.3 1150 L1975.3 1150 L1979.3 1150 L1983.3 1150 L1987.3 1150.1 L1991.3 1150.1 L1995.3 1150.1 L1999.3 1150.1 L2003.3 1150.1 L2007.3 1150.1 L2011.3 1150.1 L2015.3 1150.1 L2019.3 1150.1 L2023.3 1150.1 L2027.3 1150.1 L2031.3 1150.1 L2035.3 1150.1 L2039.3 1150.1 L2043.3 1150 L2047.3 1150 L2051.3 1150 L2055.3 1150 L2059.3 1149.9 L2063.3 1149.9 L2067.3 1149.9 L2071.3 1149.8 L2075.3 1149.8 L2079.3 1149.8 L2083.3 1149.7 L2087.3 1149.7 L2091.3 1149.6 L2095.3 1149.6 L2099.3 1149.5 L2103.3 1149.4 L2107.3 1149.4 L2111.3 1149.3 L2115.3 1149.2 L2118 1149.2" fill="none" stroke="#000" stroke-width="3.8" stroke-linejoin="round"/>
<path d="M317 1074 L322.9 1062.4 L328 1056.6 L333.8 1042.8 L338.2 1050.8 L342.6 1062.4 L348.4 1063.2 L352.8 1055.2 L360.1 1044.2 L368.1 1050.8 L376.1 1045 L381.9 1039.1 L387 1043.5 L392.1 1050.1 L399.4 1044.2 L404 1046 L408.9 1042 L411.6 1036.5 L416.7 1033.6 L422.6 1038.7 L429.1 1049.6 L436.4 1023.4 L441.5 1032.8 L448.8 1032.1 L454.6 1042.3 L459 989.1 L461.9 986.9 L465.5 998.6 L469.9 1011 L472.8 1015.4 L477.9 1003.7 L484.5 1025.5 L489.6 1003.7 L492.5 990 L497.2 910.6 L501.8 832.9 L506.5 755.3 L511.1 677.6 L515 600 L520 500 L524.5 440 L527.5 390 L528.1 354.7 L529.8 308.1 L532.1 282.5 L536.2 275.5 L539.1 261.5 L542 238.2 L545 214.9 L547.3 203.2 L549 191.6 L552 168.3 L554.9 156.6 L557.8 154.3 L562.4 160.1 L567.1 165.4 L572.9 165.9 L576.4 154.3 L578.8 139.1 L581.7 134.5 L585.7 139.1 L592.7 142.6 L596.2 154.3 L599.7 162.4 L603.2 168.3 L606.7 175.3 L610.2 189.2 L612.6 203.2 L616 214.9 L618.4 226.5 L620.7 240.5 L624.2 252.2 L627.7 261.5 L631.2 270.8 L635.9 280.1 L638.2 291.8 L642.9 305.8 L646.3 317.4 L651 329.1 L655.7 340.7 L661.5 354.7 L666.2 366.4 L670 378 L674 391.3 L678 404.1 L682 416.5 L686 428.6 L690 440.2 L694 451.6 L698 462.6 L702 473.3 L706 483.7 L710 493.9 L714 503.8 L718 513.5 L722 523 L726 532.2 L730 541.3 L734 550.2 L738 558.9 L742 567.5 L746 575.9 L750 584.2 L754 592.3 L758 600.3 L762 608.2 L766 616 L770 623.7 L774 631.3 L778 638.8 L782 646.1 L786 653.4 L790 660.5 L794 667.6 L798 674.5 L802 681.4 L806 688.2 L810 694.9 L814 701.5 L818 708 L822 714.5 L826 720.8 L830 727.1 L834 733.4 L838 739.5 L842 745.6 L846 751.6 L850 757.6 L854 763.5 L858 769.4 L862 775.2 L866 780.9 L870 786.6 L874 792.3 L878 797.9 L882 803.5 L886 809 L890 814.5 L894 819.9 L898 825.3 L902 830.6 L906 835.9 L910 841.1 L914 846.3 L918 851.5 L922 856.5 L926 861.6 L930 866.5 L934 871.5 L938 876.3 L942 881.2 L946 885.9 L950 890.6 L954 895.3 L958 899.9 L962 904.5 L966 908.9 L970 913.4 L974 917.8 L978 922.1 L982 926.3 L986 930.6 L990 934.7 L994 938.8 L998 942.8 L1002 946.8 L1006 950.7 L1010 954.6 L1014 958.3 L1018 962.1 L1022 965.7 L1026 969.3 L1030 972.9 L1034 976.4 L1038 979.8 L1042 983.1 L1046 986.4 L1050 989.7 L1054 992.8 L1058 995.9 L1062 999 L1066 1001.9 L1070 1004.8 L1074 1007.7 L1078 1010.4 L1082 1013.2 L1086 1015.8 L1090 1018.4 L1094 1020.9 L1098 1023.3 L1102 1025.7 L1106 1028 L1110 1030.3 L1114 1032.5 L1118 1034.6 L1122 1036.7 L1126 1038.8 L1130 1040.8 L1134 1042.7 L1138 1044.7 L1142 1046.5 L1146 1048.4 L1150 1050.2 L1154 1051.9 L1158 1053.7 L1162 1055.4 L1166 1057 L1170 1058.7 L1174 1060.3 L1178 1061.9 L1182 1063.5 L1186 1065.1 L1190 1066.6 L1194 1068.1 L1198 1069.6 L1202 1071.1 L1206 1072.5 L1210 1074 L1214 1075.4 L1218 1076.8 L1222 1078.1 L1226 1079.5 L1230 1080.8 L1234 1082.1 L1238 1083.4 L1242 1084.7 L1246 1086 L1250 1087.2 L1254 1088.4 L1258 1089.6 L1262 1090.8 L1266 1092 L1270 1093.1 L1274 1094.2 L1278 1095.3 L1282 1096.4 L1286 1097.5 L1290 1098.6 L1294 1099.6 L1298 1100.6 L1302 1101.6 L1306 1102.6 L1310 1103.6 L1314 1104.6 L1318 1105.5 L1322 1106.4 L1326 1107.3 L1330 1108.2 L1334 1109.1 L1338 1110 L1342 1110.8 L1346 1111.6 L1350 1112.4 L1354 1113.2 L1358 1114 L1362 1114.8 L1366 1115.6 L1370 1116.3 L1374 1117 L1378 1117.7 L1382 1118.4 L1386 1119.1 L1390 1119.8 L1394 1120.5 L1398 1121.1 L1402 1121.8 L1406 1122.4 L1410 1123 L1414 1123.6 L1418 1124.2 L1422 1124.7 L1426 1125.3 L1430 1125.9 L1434 1126.4 L1438 1126.9 L1442 1127.4 L1446 1127.9 L1450 1128.4 L1454 1128.9 L1458 1129.4 L1462 1129.8 L1466 1130.3 L1470 1130.7 L1474 1131.2 L1478 1131.6 L1482 1132 L1486 1132.4 L1490 1132.8 L1494 1133.2 L1498 1133.5 L1502 1133.9 L1506 1134.2 L1510 1134.6 L1514 1134.9 L1518 1135.3 L1522 1135.6 L1526 1135.9 L1530 1136.2 L1534 1136.5 L1538 1136.8 L1542 1137.1 L1546 1137.3 L1550 1137.6 L1554 1137.9 L1558 1138.1 L1562 1138.4 L1566 1138.6 L1570 1138.8 L1574 1139.1 L1578 1139.3 L1582 1139.5 L1586 1139.7 L1590 1139.9 L1594 1140.1 L1598 1140.3 L1602 1140.5 L1606 1140.7 L1610 1140.9 L1614 1141 L1618 1141.2 L1622 1141.4 L1626 1141.5 L1630 1141.7 L1634 1141.9 L1638 1142 L1642 1142.2 L1646 1142.3 L1650 1142.4 L1654 1142.6 L1658 1142.7 L1662 1142.8 L1666 1143 L1670 1143.1 L1674 1143.2 L1678 1143.3 L1682 1143.5 L1686 1143.6 L1690 1143.7 L1694 1143.8 L1698 1143.9 L1702 1144 L1706 1144.2 L1710 1144.3 L1714 1144.4 L1718 1144.5 L1722 1144.6 L1726 1144.7 L1730 1144.8 L1734 1144.9 L1738 1145 L1742 1145.1 L1746 1145.2 L1750 1145.3 L1754 1145.4 L1758 1145.5 L1762 1145.6 L1766 1145.7 L1770 1145.8 L1774 1145.9 L1778 1146 L1782 1146.1 L1786 1146.2 L1790 1146.3 L1794 1146.4 L1798 1146.4 L1802 1146.5 L1806 1146.6 L1810 1146.7 L1814 1146.8 L1818 1146.9 L1822 1146.9 L1826 1147 L1830 1147.1 L1834 1147.2 L1838 1147.2 L1842 1147.3 L1846 1147.4 L1850 1147.5 L1854 1147.5 L1858 1147.6 L1862 1147.7 L1866 1147.7 L1870 1147.8 L1874 1147.9 L1878 1147.9 L1882 1148 L1886 1148 L1890 1148.1 L1894 1148.2 L1898 1148.2 L1902 1148.3 L1906 1148.3 L1910 1148.4 L1914 1148.4 L1918 1148.5 L1922 1148.5 L1926 1148.6 L1930 1148.6 L1934 1148.7 L1938 1148.7 L1942 1148.7 L1946 1148.8 L1950 1148.8 L1954 1148.9 L1958 1148.9 L1962 1148.9 L1966 1149 L1970 1149 L1974 1149 L1978 1149.1 L1982 1149.1 L1986 1149.1 L1990 1149.1 L1994 1149.2 L1998 1149.2 L2002 1149.2 L2006 1149.2 L2010 1149.2 L2014 1149.2 L2018 1149.3 L2022 1149.3 L2026 1149.3 L2030 1149.3 L2034 1149.3 L2038 1149.3 L2042 1149.3 L2046 1149.3 L2050 1149.3 L2054 1149.3 L2058 1149.3 L2062 1149.3 L2066 1149.3 L2070 1149.3 L2074 1149.3 L2078 1149.3 L2082 1149.3 L2086 1149.3 L2090 1149.3 L2094 1149.3 L2098 1149.2 L2102 1149.2 L2106 1149.2 L2110 1149.2 L2114 1149.2 L2118 1149.1" fill="none" stroke="#1b6aa8" stroke-width="4" stroke-linejoin="round"/>
<path d="M413 2658 L418 2648.2 L422 2647.3 L427 2658" fill="none" stroke="#1da050" stroke-width="3" stroke-linejoin="round" stroke-linecap="butt"/>
<path d="M440 2658 L444.7 2646.5 L449.5 2658" fill="none" stroke="#1da050" stroke-width="3" stroke-linejoin="round" stroke-linecap="butt"/>
<path d="M493 2658 L498 2652.5 L503 2658" fill="none" stroke="#1da050" stroke-width="3" stroke-linejoin="round" stroke-linecap="butt"/>
<path d="M309 2645 L314.9 2639.4 L317.5 2650 L322.7 2646.4 L330.6 2648.2 L342 2644.7 L352.4 2646.4 L359.4 2641.2 L366.4 2639.4 L371.7 2641.2 L376 2650 L383.9 2641.2 L389.2 2635.9 L393.5 2648.2 L397 2641.2 L404.9 2641.2 L411.9 2644.7 L415 2638.6 L425.5 2641.2 L430.7 2647.3 L436.9 2640.3 L443 2626.4 L453.5 2638.6 L460.5 2633.4 L470.9 2643.8 L476.2 2638.6 L482.3 2627.2 L489.3 2615 L493.7 2599.3 L496.3 2586.2 L498.9 2568.7 L502.4 2556.4 L508.5 2549.4 L513.8 2555.6 L518.1 2568.7 L523.4 2571.3 L528.6 2568.7 L535 2573.9 L541.8 2579.2 L559.3 2583.6 L565.1 2577.8 L572.4 2589.4 L579.7 2586.5 L588.4 2593.8 L592.4 2594.7 L596.4 2595.6 L600.4 2596.5 L604.4 2597.3 L608.4 2598.2 L612.4 2599 L616.4 2599.9 L620.4 2600.7 L624.4 2601.6 L628.4 2602.4 L632.4 2603.1 L636.4 2603.9 L640.4 2604.6 L644.4 2605.3 L648.4 2606.1 L652.4 2606.8 L656.4 2607.5 L660.4 2608.2 L664.4 2608.9 L668.4 2609.5 L672.4 2610.2 L676.4 2610.9 L680.4 2611.6 L684.4 2612.2 L688.4 2612.9 L692.4 2613.5 L696.4 2614.1 L700.4 2614.8 L704.4 2615.4 L708.4 2616 L712.4 2616.6 L716.4 2617.2 L720.4 2617.8 L724.4 2618.4 L728.4 2619 L732.4 2619.6 L736.4 2620.2 L740.4 2620.7 L744.4 2621.3 L748.4 2621.8 L752.4 2622.4 L756.4 2622.9 L760.4 2623.5 L764.4 2624 L768.4 2624.5 L772.4 2625 L776.4 2625.6 L780.4 2626.1 L784.4 2626.6 L788.4 2627.1 L792.4 2627.6 L796.4 2628 L800.4 2628.5 L804.4 2629 L808.4 2629.4 L812.4 2629.9 L816.4 2630.4 L820.4 2630.8 L824.4 2631.3 L828.4 2631.7 L832.4 2632.1 L836.4 2632.6 L840.4 2633 L844.4 2633.4 L848.4 2633.8 L852.4 2634.2 L856.4 2634.6 L860.4 2635 L864.4 2635.4 L868.4 2635.8 L872.4 2636.2 L876.4 2636.5 L880.4 2636.9 L884.4 2637.3 L888.4 2637.6 L892.4 2638 L896.4 2638.3 L900.4 2638.7 L904.4 2639 L908.4 2639.4 L912.4 2639.7 L916.4 2640 L920.4 2640.3 L924.4 2640.6 L928.4 2641 L932.4 2641.3 L936.4 2641.6 L940.4 2641.9 L944.4 2642.2 L948.4 2642.4 L952.4 2642.7 L956.4 2643 L960.4 2643.3 L964.4 2643.6 L968.4 2643.8 L972.4 2644.1 L976.4 2644.3 L980.4 2644.6 L984.4 2644.8 L988.4 2645.1 L992.4 2645.3 L996.4 2645.6 L1000.4 2645.8 L1004.4 2646 L1008.4 2646.3 L1012.4 2646.5 L1016.4 2646.7 L1020.4 2646.9 L1024.4 2647.1 L1028.4 2647.3 L1032.4 2647.5 L1036.4 2647.7 L1040.4 2647.9 L1044.4 2648.1 L1048.4 2648.3 L1052.4 2648.5 L1056.4 2648.7 L1060.4 2648.8 L1064.4 2649 L1068.4 2649.2 L1072.4 2649.3 L1076.4 2649.5 L1080.4 2649.7 L1084.4 2649.8 L1088.4 2650 L1092.4 2650.1 L1096.4 2650.3 L1100.4 2650.4 L1104.4 2650.5 L1108.4 2650.7 L1112.4 2650.8 L1116.4 2650.9 L1120.4 2651.1 L1124.4 2651.2 L1128.4 2651.3 L1132.4 2651.4 L1136.4 2651.5 L1140.4 2651.6 L1144.4 2651.8 L1148.4 2651.9 L1152.4 2652 L1156.4 2652.1 L1160.4 2652.2 L1164.4 2652.3 L1168.4 2652.4 L1172.4 2652.4 L1176.4 2652.5 L1180.4 2652.6 L1184.4 2652.7 L1188.4 2652.8 L1192.4 2652.9 L1196.4 2652.9 L1200.4 2653 L1204.4 2653.1 L1208.4 2653.1 L1212.4 2653.2 L1216.4 2653.3 L1220.4 2653.3 L1224.4 2653.4 L1228.4 2653.4 L1232.4 2653.5 L1236.4 2653.5 L1240.4 2653.6 L1244.4 2653.6 L1248.4 2653.7 L1252.4 2653.7 L1256.4 2653.8 L1260.4 2653.8 L1264.4 2653.9 L1268.4 2653.9 L1272.4 2653.9 L1276.4 2654 L1280.4 2654 L1284.4 2654 L1288.4 2654 L1292.4 2654.1 L1296.4 2654.1 L1300.4 2654.1 L1304.4 2654.1 L1308.4 2654.2 L1312.4 2654.2 L1316.4 2654.2 L1320.4 2654.2 L1324.4 2654.2 L1328.4 2654.2 L1332.4 2654.2 L1336.4 2654.3 L1340.4 2654.3 L1344.4 2654.3 L1348.4 2654.3 L1352.4 2654.3 L1356.4 2654.3 L1360.4 2654.3 L1364.4 2654.3 L1368.4 2654.3 L1372.4 2654.3 L1376.4 2654.3 L1380.4 2654.3 L1384.4 2654.3 L1388.4 2654.3 L1392.4 2654.3 L1396.4 2654.3 L1400.4 2654.3 L1404.4 2654.3 L1408.4 2654.2 L1412.4 2654.2 L1416.4 2654.2 L1420.4 2654.2 L1424.4 2654.2 L1428.4 2654.2 L1432.4 2654.2 L1436.4 2654.1 L1440.4 2654.1 L1444.4 2654.1 L1448.4 2654.1 L1452.4 2654.1 L1456.4 2654.1 L1460.4 2654 L1464.4 2654 L1468.4 2654 L1472.4 2654 L1476.4 2654 L1480.4 2653.9 L1484.4 2653.9 L1488.4 2653.9 L1492.4 2653.9 L1496.4 2653.8 L1500.4 2653.8 L1504.4 2653.8 L1508.4 2653.7 L1512.4 2653.7 L1516.4 2653.7 L1520.4 2653.7 L1524.4 2653.6 L1528.4 2653.6 L1532.4 2653.6 L1536.4 2653.6 L1540.4 2653.5 L1544.4 2653.5 L1548.4 2653.5 L1552.4 2653.4 L1556.4 2653.4 L1560.4 2653.4 L1564.4 2653.3 L1568.4 2653.3 L1572.4 2653.3 L1576.4 2653.2 L1580.4 2653.2 L1584.4 2653.2 L1588.4 2653.2 L1592.4 2653.1 L1596.4 2653.1 L1600.4 2653.1 L1604.4 2653 L1608.4 2653 L1612.4 2653 L1616.4 2652.9 L1620.4 2652.9 L1624.4 2652.9 L1628.4 2652.8 L1632.4 2652.8 L1636.4 2652.8 L1640.4 2652.8 L1644.4 2652.7 L1648.4 2652.7 L1652.4 2652.7 L1656.4 2652.6 L1660.4 2652.6 L1664.4 2652.6 L1668.4 2652.6 L1672.4 2652.5 L1676.4 2652.5 L1680.4 2652.5 L1684.4 2652.4 L1688.4 2652.4 L1692.4 2652.4 L1696.4 2652.4 L1700.4 2652.3 L1704.4 2652.3 L1708.4 2652.3 L1712.4 2652.3 L1716.4 2652.3 L1720.4 2652.2 L1724.4 2652.2 L1728.4 2652.2 L1732.4 2652.2 L1736.4 2652.2 L1740.4 2652.1 L1744.4 2652.1 L1748.4 2652.1 L1752.4 2652.1 L1756.4 2652.1 L1760.4 2652.1 L1764.4 2652.1 L1768.4 2652 L1772.4 2652 L1776.4 2652 L1780.4 2652 L1784.4 2652 L1788.4 2652 L1792.4 2652 L1796.4 2652 L1800.4 2652 L1804.4 2652 L1808.4 2652 L1812.4 2652 L1816.4 2652 L1820.4 2652 L1824.4 2652 L1828.4 2652 L1832.4 2652 L1836.4 2652 L1840.4 2652 L1844.4 2652 L1848.4 2652 L1852.4 2652 L1856.4 2652.1 L1860.4 2652.1 L1864.4 2652.1 L1868.4 2652.1 L1872.4 2652.1 L1876.4 2652.1 L1880.4 2652.2 L1884.4 2652.2 L1888.4 2652.2 L1892.4 2652.2 L1896.4 2652.3 L1900.4 2652.3 L1904.4 2652.3 L1908.4 2652.4 L1912.4 2652.4 L1916.4 2652.4 L1920.4 2652.5 L1924.4 2652.5 L1928.4 2652.5 L1932.4 2652.6 L1936.4 2652.6 L1940.4 2652.7 L1944.4 2652.7 L1948.4 2652.8 L1952.4 2652.8 L1956.4 2652.9 L1960.4 2652.9 L1964.4 2653 L1968.4 2653 L1972.4 2653.1 L1976.4 2653.2 L1980.4 2653.2 L1984.4 2653.3 L1988.4 2653.4 L1992.4 2653.4 L1996.4 2653.5 L2000.4 2653.6 L2004.4 2653.6 L2008.4 2653.7 L2012.4 2653.8 L2016.4 2653.9 L2020.4 2654 L2024.4 2654.1 L2028.4 2654.1 L2032.4 2654.2 L2036.4 2654.3 L2040.4 2654.4 L2044.4 2654.5 L2048.4 2654.6 L2052.4 2654.7 L2056.4 2654.8 L2060.4 2654.9 L2064.4 2655.1 L2068.4 2655.2 L2072.4 2655.3 L2076.4 2655.4 L2080.4 2655.5 L2084.4 2655.6 L2088.4 2655.8 L2092.4 2655.9 L2096.4 2656 L2100.4 2656.2 L2104.4 2656.3 L2108.4 2656.4 L2112.4 2656.6 L2116.4 2656.7 L2120.4 2656.9 L2123 2656.9" fill="none" stroke="#000" stroke-width="3.8" stroke-linejoin="round"/>
<path d="M309 2634.2 L310.5 2634.2 L316.6 2623.7 L321.9 2627.2 L324.5 2641.2 L330.6 2639.4 L336.7 2642.9 L342 2643.8 L349 2639.4 L354.2 2635.1 L361.2 2632.4 L367.3 2629 L374.3 2631.6 L378.7 2632.4 L383.9 2637.7 L387.4 2629 L391.8 2611.5 L396.2 2609.7 L399.7 2619.3 L404 2634.2 L410.1 2637.7 L415 2634.2 L426.4 2631.6 L435.1 2627.2 L443 2619.4 L450 2623.7 L457 2631.6 L463.1 2641.2 L467.4 2624.6 L471.8 2622 L477.9 2620.2 L483.2 2606.3 L486.7 2586.2 L490.2 2559.9 L493.7 2533.7 L498 2525 L504.2 2523.2 L511.2 2512.7 L516.4 2521.5 L524.3 2511.9 L530.4 2519.7 L535 2528.5 L541.8 2532.6 L550.5 2531.2 L554.5 2533.4 L558.5 2535.5 L562.5 2537.6 L566.5 2539.6 L570.5 2541.7 L574.5 2543.7 L578.5 2545.7 L582.5 2547.6 L586.5 2549.6 L590.5 2551.5 L594.5 2553.3 L598.5 2555.1 L602.5 2556.8 L606.5 2558.5 L610.5 2560.2 L614.5 2561.9 L618.5 2563.6 L622.5 2565.2 L626.5 2566.8 L630.5 2568.4 L634.5 2569.9 L638.5 2571.5 L642.5 2573 L646.5 2574.5 L650.5 2575.9 L654.5 2577.3 L658.5 2578.8 L662.5 2580.1 L666.5 2581.5 L670.5 2582.9 L674.5 2584.2 L678.5 2585.5 L682.5 2586.8 L686.5 2588 L690.5 2589.3 L694.5 2590.5 L698.5 2591.7 L702.5 2592.8 L706.5 2594 L710.5 2595.1 L714.5 2596.3 L718.5 2597.4 L722.5 2598.4 L726.5 2599.5 L730.5 2600.5 L734.5 2601.6 L738.5 2602.6 L742.5 2603.5 L746.5 2604.5 L750.5 2605.5 L754.5 2606.4 L758.5 2607.3 L762.5 2608.2 L766.5 2609.1 L770.5 2610 L774.5 2610.9 L778.5 2611.7 L782.5 2612.5 L786.5 2613.3 L790.5 2614.1 L794.5 2614.9 L798.5 2615.7 L802.5 2616.4 L806.5 2617.2 L810.5 2617.9 L814.5 2618.6 L818.5 2619.3 L822.5 2620 L826.5 2620.7 L830.5 2621.4 L834.5 2622 L838.5 2622.6 L842.5 2623.3 L846.5 2623.9 L850.5 2624.5 L854.5 2625.1 L858.5 2625.7 L862.5 2626.3 L866.5 2626.8 L870.5 2627.4 L874.5 2627.9 L878.5 2628.5 L882.5 2629 L886.5 2629.5 L890.5 2630.1 L894.5 2630.6 L898.5 2631.1 L902.5 2631.6 L906.5 2632 L910.5 2632.5 L914.5 2633 L918.5 2633.4 L922.5 2633.9 L926.5 2634.3 L930.5 2634.8 L934.5 2635.2 L938.5 2635.6 L942.5 2636 L946.5 2636.4 L950.5 2636.8 L954.5 2637.2 L958.5 2637.6 L962.5 2638 L966.5 2638.3 L970.5 2638.7 L974.5 2639 L978.5 2639.4 L982.5 2639.7 L986.5 2640.1 L990.5 2640.4 L994.5 2640.7 L998.5 2641 L1002.5 2641.3 L1006.5 2641.6 L1010.5 2641.9 L1014.5 2642.2 L1018.5 2642.5 L1022.5 2642.8 L1026.5 2643 L1030.5 2643.3 L1034.5 2643.6 L1038.5 2643.8 L1042.5 2644.1 L1046.5 2644.3 L1050.5 2644.5 L1054.5 2644.8 L1058.5 2645 L1062.5 2645.2 L1066.5 2645.4 L1070.5 2645.6 L1074.5 2645.8 L1078.5 2646 L1082.5 2646.2 L1086.5 2646.4 L1090.5 2646.6 L1094.5 2646.8 L1098.5 2647 L1102.5 2647.2 L1106.5 2647.3 L1110.5 2647.5 L1114.5 2647.6 L1118.5 2647.8 L1122.5 2647.9 L1126.5 2648.1 L1130.5 2648.2 L1134.5 2648.4 L1138.5 2648.5 L1142.5 2648.6 L1146.5 2648.8 L1150.5 2648.9 L1154.5 2649 L1158.5 2649.1 L1162.5 2649.3 L1166.5 2649.4 L1170.5 2649.5 L1174.5 2649.6 L1178.5 2649.7 L1182.5 2649.8 L1186.5 2649.9 L1190.5 2650 L1194.5 2650.1 L1198.5 2650.1 L1202.5 2650.2 L1206.5 2650.3 L1210.5 2650.4 L1214.5 2650.5 L1218.5 2650.5 L1222.5 2650.6 L1226.5 2650.7 L1230.5 2650.8 L1234.5 2650.8 L1238.5 2650.9 L1242.5 2651 L1246.5 2651 L1250.5 2651.1 L1254.5 2651.1 L1258.5 2651.2 L1262.5 2651.3 L1266.5 2651.3 L1270.5 2651.4 L1274.5 2651.4 L1278.5 2651.5 L1282.5 2651.5 L1286.5 2651.6 L1290.5 2651.6 L1294.5 2651.7 L1298.5 2651.7 L1302.5 2651.8 L1306.5 2651.8 L1310.5 2651.8 L1314.5 2651.9 L1318.5 2651.9 L1322.5 2652 L1326.5 2652 L1330.5 2652.1 L1334.5 2652.1 L1338.5 2652.1 L1342.5 2652.2 L1346.5 2652.2 L1350.5 2652.2 L1354.5 2652.3 L1358.5 2652.3 L1362.5 2652.4 L1366.5 2652.4 L1370.5 2652.4 L1374.5 2652.5 L1378.5 2652.5 L1382.5 2652.5 L1386.5 2652.6 L1390.5 2652.6 L1394.5 2652.6 L1398.5 2652.7 L1402.5 2652.7 L1406.5 2652.7 L1410.5 2652.7 L1414.5 2652.8 L1418.5 2652.8 L1422.5 2652.8 L1426.5 2652.8 L1430.5 2652.9 L1434.5 2652.9 L1438.5 2652.9 L1442.5 2652.9 L1446.5 2653 L1450.5 2653 L1454.5 2653 L1458.5 2653 L1462.5 2653.1 L1466.5 2653.1 L1470.5 2653.1 L1474.5 2653.1 L1478.5 2653.1 L1482.5 2653.2 L1486.5 2653.2 L1490.5 2653.2 L1494.5 2653.2 L1498.5 2653.2 L1502.5 2653.2 L1506.5 2653.3 L1510.5 2653.3 L1514.5 2653.3 L1518.5 2653.3 L1522.5 2653.3 L1526.5 2653.3 L1530.5 2653.4 L1534.5 2653.4 L1538.5 2653.4 L1542.5 2653.4 L1546.5 2653.4 L1550.5 2653.4 L1554.5 2653.4 L1558.5 2653.4 L1562.5 2653.4 L1566.5 2653.5 L1570.5 2653.5 L1574.5 2653.5 L1578.5 2653.5 L1582.5 2653.5 L1586.5 2653.5 L1590.5 2653.5 L1594.5 2653.5 L1598.5 2653.5 L1602.5 2653.5 L1606.5 2653.5 L1610.5 2653.6 L1614.5 2653.6 L1618.5 2653.6 L1622.5 2653.6 L1626.5 2653.6 L1630.5 2653.6 L1634.5 2653.6 L1638.5 2653.6 L1642.5 2653.6 L1646.5 2653.6 L1650.5 2653.6 L1654.5 2653.6 L1658.5 2653.6 L1662.5 2653.6 L1666.5 2653.6 L1670.5 2653.6 L1674.5 2653.6 L1678.5 2653.6 L1682.5 2653.6 L1686.5 2653.6 L1690.5 2653.6 L1694.5 2653.6 L1698.5 2653.6 L1702.5 2653.7 L1706.5 2653.7 L1710.5 2653.7 L1714.5 2653.7 L1718.5 2653.7 L1722.5 2653.7 L1726.5 2653.7 L1730.5 2653.7 L1734.5 2653.7 L1738.5 2653.7 L1742.5 2653.7 L1746.5 2653.7 L1750.5 2653.7 L1754.5 2653.7 L1758.5 2653.7 L1762.5 2653.7 L1766.5 2653.7 L1770.5 2653.7 L1774.5 2653.7 L1778.5 2653.7 L1782.5 2653.7 L1786.5 2653.7 L1790.5 2653.7 L1794.5 2653.7 L1798.5 2653.7 L1802.5 2653.7 L1806.5 2653.7 L1810.5 2653.7 L1814.5 2653.7 L1818.5 2653.7 L1822.5 2653.7 L1826.5 2653.7 L1830.5 2653.7 L1834.5 2653.7 L1838.5 2653.7 L1842.5 2653.7 L1846.5 2653.7 L1850.5 2653.7 L1854.5 2653.7 L1858.5 2653.7 L1862.5 2653.7 L1866.5 2653.7 L1870.5 2653.7 L1874.5 2653.7 L1878.5 2653.7 L1882.5 2653.7 L1886.5 2653.7 L1890.5 2653.7 L1894.5 2653.7 L1898.5 2653.7 L1902.5 2653.7 L1906.5 2653.7 L1910.5 2653.7 L1914.5 2653.7 L1918.5 2653.7 L1922.5 2653.7 L1926.5 2653.7 L1930.5 2653.7 L1934.5 2653.7 L1938.5 2653.7 L1942.5 2653.7 L1946.5 2653.7 L1950.5 2653.7 L1954.5 2653.7 L1958.5 2653.7 L1962.5 2653.8 L1966.5 2653.8 L1970.5 2653.8 L1974.5 2653.8 L1978.5 2653.8 L1982.5 2653.8 L1986.5 2653.8 L1990.5 2653.8 L1994.5 2653.8 L1998.5 2653.8 L2002.5 2653.8 L2006.5 2653.8 L2010.5 2653.8 L2014.5 2653.8 L2018.5 2653.8 L2022.5 2653.9 L2026.5 2653.9 L2030.5 2653.9 L2034.5 2653.9 L2038.5 2653.9 L2042.5 2653.9 L2046.5 2653.9 L2050.5 2653.9 L2054.5 2653.9 L2058.5 2654 L2062.5 2654 L2066.5 2654 L2070.5 2654 L2074.5 2654 L2078.5 2654 L2082.5 2654 L2086.5 2654 L2090.5 2654.1 L2094.5 2654.1 L2098.5 2654.1 L2102.5 2654.1 L2106.5 2654.1 L2110.5 2654.1 L2114.5 2654.2 L2118.5 2654.2 L2122.5 2654.2 L2123 2654.2" fill="none" stroke="#1b6aa8" stroke-width="3.8" stroke-linejoin="round"/>
<path d="M309 2652.6 L313.1 2655.2 L321.9 2652.6 L327 2656 L333.2 2654.3 L338 2657 L343.7 2656.9 L350 2653 L356.8 2656.9 L366.4 2649.9 L374.3 2654.3 L383 2649.9 L391.8 2655.2 L403.1 2650.8 L413.6 2655.2 L420 2653.5 L428.1 2655.2 L441.2 2655.2 L450 2653.5 L458.7 2657 L465 2655 L471.8 2653.5 L477.9 2656.1 L484.9 2643.8 L493.7 2640.3 L498.9 2634.2 L503.3 2638.6 L506.8 2647.3 L511.2 2655.2 L519.9 2656.1 L530.2 2650.6 L538.9 2647.7 L550.5 2653.5 L576.8 2646.3 L588.4 2652 L603 2650.6 L650 2654.5 L700 2655.5 L2123 2656" fill="none" stroke="#d41414" stroke-width="4.6" stroke-linejoin="round" stroke-linecap="butt"/>
<line x1="309" y1="2656.6" x2="2123.5" y2="2656.6" stroke="#d41414" stroke-width="5.6"/>
<path d="M490 4077.5 L496.3 4077.7 L505.8 4071.1 L515.2 4076.8 L524.7 4077.7 L532 4076 L538 4073 L545 4076.5 L551.2 4076.8 L590 4076.5 L598.4 4073.3 L606 4076.5 L2141 4077" fill="none" stroke="#1da050" stroke-width="3.2" stroke-linejoin="round" stroke-linecap="butt"/>
<path d="M322.4 4063 L330 4061 L338 4066 L346 4060 L354 4066 L362 4061 L370 4066 L378 4061 L386 4066 L394 4060 L402 4066 L407.7 4059 L414 4064 L420 4062 L428.6 4064.2 L436 4063 L445 4060 L452.7 4056.9 L458.4 4064.5 L465 4064.5 L476.4 4044.6 L483 4051.2 L487.8 4054 L495 4040 L500 4030 L505.8 4015.2 L510.5 3996.3 L515.2 3983 L520.9 3974.5 L525.6 3965 L530.4 3968.8 L536.1 3984 L542.7 3972.6 L548.4 3983 L555 3986.8 L560 3989.7 L566.4 3993.2 L572.8 3996.5 L579.1 3991 L585.5 4006.5 L600.1 4005.6 L609.2 4011 L613.2 4012.1 L617.2 4013.2 L621.2 4014.3 L625.2 4015.4 L629.2 4016.5 L633.2 4017.6 L637.2 4018.6 L641.2 4019.6 L645.2 4020.7 L649.2 4021.7 L653.2 4022.6 L657.2 4023.5 L661.2 4024.4 L665.2 4025.3 L669.2 4026.2 L673.2 4027 L677.2 4027.9 L681.2 4028.7 L685.2 4029.5 L689.2 4030.4 L693.2 4031.2 L697.2 4031.9 L701.2 4032.7 L705.2 4033.5 L709.2 4034.3 L713.2 4035 L717.2 4035.7 L721.2 4036.5 L725.2 4037.2 L729.2 4037.9 L733.2 4038.6 L737.2 4039.3 L741.2 4040 L745.2 4040.6 L749.2 4041.3 L753.2 4041.9 L757.2 4042.6 L761.2 4043.2 L765.2 4043.8 L769.2 4044.4 L773.2 4045 L777.2 4045.6 L781.2 4046.2 L785.2 4046.8 L789.2 4047.3 L793.2 4047.9 L797.2 4048.4 L801.2 4048.9 L805.2 4049.5 L809.2 4050 L813.2 4050.5 L817.2 4051 L821.2 4051.5 L825.2 4052 L829.2 4052.4 L833.2 4052.9 L837.2 4053.4 L841.2 4053.8 L845.2 4054.3 L849.2 4054.7 L853.2 4055.1 L857.2 4055.6 L861.2 4056 L865.2 4056.4 L869.2 4056.8 L873.2 4057.2 L877.2 4057.5 L881.2 4057.9 L885.2 4058.3 L889.2 4058.6 L893.2 4059 L897.2 4059.4 L901.2 4059.7 L905.2 4060 L909.2 4060.4 L913.2 4060.7 L917.2 4061 L921.2 4061.3 L925.2 4061.6 L929.2 4061.9 L933.2 4062.2 L937.2 4062.5 L941.2 4062.8 L945.2 4063 L949.2 4063.3 L953.2 4063.6 L957.2 4063.8 L961.2 4064.1 L965.2 4064.3 L969.2 4064.6 L973.2 4064.8 L977.2 4065 L981.2 4065.3 L985.2 4065.5 L989.2 4065.7 L993.2 4065.9 L997.2 4066.1 L1001.2 4066.3 L1005.2 4066.5 L1009.2 4066.7 L1013.2 4066.9 L1017.2 4067.1 L1021.2 4067.3 L1025.2 4067.5 L1029.2 4067.7 L1033.2 4067.8 L1037.2 4068 L1041.2 4068.2 L1045.2 4068.3 L1049.2 4068.5 L1053.2 4068.6 L1057.2 4068.8 L1061.2 4068.9 L1065.2 4069.1 L1069.2 4069.2 L1073.2 4069.4 L1077.2 4069.5 L1081.2 4069.6 L1085.2 4069.7 L1089.2 4069.9 L1093.2 4070 L1097.2 4070.1 L1101.2 4070.2 L1105.2 4070.3 L1109.2 4070.4 L1113.2 4070.5 L1117.2 4070.6 L1121.2 4070.7 L1125.2 4070.8 L1129.2 4070.9 L1133.2 4071 L1137.2 4071.1 L1141.2 4071.2 L1145.2 4071.3 L1149.2 4071.4 L1153.2 4071.5 L1157.2 4071.5 L1161.2 4071.6 L1165.2 4071.7 L1169.2 4071.7 L1173.2 4071.8 L1177.2 4071.9 L1181.2 4071.9 L1185.2 4072 L1189.2 4072.1 L1193.2 4072.1 L1197.2 4072.2 L1201.2 4072.2 L1205.2 4072.3 L1209.2 4072.3 L1213.2 4072.4 L1217.2 4072.4 L1221.2 4072.5 L1225.2 4072.5 L1229.2 4072.5 L1233.2 4072.6 L1237.2 4072.6 L1241.2 4072.6 L1245.2 4072.7 L1249.2 4072.7 L1253.2 4072.7 L1257.2 4072.8 L1261.2 4072.8 L1265.2 4072.8 L1269.2 4072.8 L1273.2 4072.9 L1277.2 4072.9 L1281.2 4072.9 L1285.2 4072.9 L1289.2 4073 L1293.2 4073 L1297.2 4073 L1301.2 4073 L1305.2 4073 L1309.2 4073 L1313.2 4073.1 L1317.2 4073.1 L1321.2 4073.1 L1325.2 4073.1 L1329.2 4073.1 L1333.2 4073.1 L1337.2 4073.1 L1341.2 4073.1 L1345.2 4073.2 L1349.2 4073.2 L1353.2 4073.2 L1357.2 4073.2 L1361.2 4073.2 L1365.2 4073.2 L1369.2 4073.2 L1373.2 4073.2 L1377.2 4073.2 L1381.2 4073.2 L1385.2 4073.3 L1389.2 4073.3 L1393.2 4073.3 L1397.2 4073.3 L1401.2 4073.3 L1405.2 4073.3 L1409.2 4073.3 L1413.2 4073.3 L1417.2 4073.3 L1421.2 4073.3 L1425.2 4073.3 L1429.2 4073.4 L1433.2 4073.4 L1437.2 4073.4 L1441.2 4073.4 L1445.2 4073.4 L1449.2 4073.4 L1453.2 4073.4 L1457.2 4073.4 L1461.2 4073.5 L1465.2 4073.5 L1469.2 4073.5 L1473.2 4073.5 L1477.2 4073.5 L1481.2 4073.5 L1485.2 4073.5 L1489.2 4073.5 L1493.2 4073.6 L1497.2 4073.6 L1501.2 4073.6 L1505.2 4073.6 L1509.2 4073.6 L1513.2 4073.6 L1517.2 4073.6 L1521.2 4073.7 L1525.2 4073.7 L1529.2 4073.7 L1533.2 4073.7 L1537.2 4073.7 L1541.2 4073.7 L1545.2 4073.8 L1549.2 4073.8 L1553.2 4073.8 L1557.2 4073.8 L1561.2 4073.8 L1565.2 4073.8 L1569.2 4073.9 L1573.2 4073.9 L1577.2 4073.9 L1581.2 4073.9 L1585.2 4073.9 L1589.2 4073.9 L1593.2 4074 L1597.2 4074 L1601.2 4074 L1605.2 4074 L1609.2 4074 L1613.2 4074 L1617.2 4074.1 L1621.2 4074.1 L1625.2 4074.1 L1629.2 4074.1 L1633.2 4074.1 L1637.2 4074.2 L1641.2 4074.2 L1645.2 4074.2 L1649.2 4074.2 L1653.2 4074.2 L1657.2 4074.3 L1661.2 4074.3 L1665.2 4074.3 L1669.2 4074.3 L1673.2 4074.3 L1677.2 4074.3 L1681.2 4074.4 L1685.2 4074.4 L1689.2 4074.4 L1693.2 4074.4 L1697.2 4074.4 L1701.2 4074.5 L1705.2 4074.5 L1709.2 4074.5 L1713.2 4074.5 L1717.2 4074.5 L1721.2 4074.6 L1725.2 4074.6 L1729.2 4074.6 L1733.2 4074.6 L1737.2 4074.6 L1741.2 4074.7 L1745.2 4074.7 L1749.2 4074.7 L1753.2 4074.7 L1757.2 4074.7 L1761.2 4074.8 L1765.2 4074.8 L1769.2 4074.8 L1773.2 4074.8 L1777.2 4074.8 L1781.2 4074.9 L1785.2 4074.9 L1789.2 4074.9 L1793.2 4074.9 L1797.2 4074.9 L1801.2 4075 L1805.2 4075 L1809.2 4075 L1813.2 4075 L1817.2 4075 L1821.2 4075.1 L1825.2 4075.1 L1829.2 4075.1 L1833.2 4075.1 L1837.2 4075.1 L1841.2 4075.2 L1845.2 4075.2 L1849.2 4075.2 L1853.2 4075.2 L1857.2 4075.2 L1861.2 4075.3 L1865.2 4075.3 L1869.2 4075.3 L1873.2 4075.3 L1877.2 4075.3 L1881.2 4075.3 L1885.2 4075.4 L1889.2 4075.4 L1893.2 4075.4 L1897.2 4075.4 L1901.2 4075.4 L1905.2 4075.5 L1909.2 4075.5 L1913.2 4075.5 L1917.2 4075.5 L1921.2 4075.5 L1925.2 4075.5 L1929.2 4075.6 L1933.2 4075.6 L1937.2 4075.6 L1941.2 4075.6 L1945.2 4075.6 L1949.2 4075.7 L1953.2 4075.7 L1957.2 4075.7 L1961.2 4075.7 L1965.2 4075.7 L1969.2 4075.7 L1973.2 4075.8 L1977.2 4075.8 L1981.2 4075.8 L1985.2 4075.8 L1989.2 4075.8 L1993.2 4075.8 L1997.2 4075.8 L2001.2 4075.9 L2005.2 4075.9 L2009.2 4075.9 L2013.2 4075.9 L2017.2 4075.9 L2021.2 4075.9 L2025.2 4076 L2029.2 4076 L2033.2 4076 L2037.2 4076 L2041.2 4076 L2045.2 4076 L2049.2 4076 L2053.2 4076 L2057.2 4076.1 L2061.2 4076.1 L2065.2 4076.1 L2069.2 4076.1 L2073.2 4076.1 L2077.2 4076.1 L2081.2 4076.1 L2085.2 4076.1 L2089.2 4076.2 L2093.2 4076.2 L2097.2 4076.2 L2101.2 4076.2 L2105.2 4076.2 L2109.2 4076.2 L2113.2 4076.2 L2117.2 4076.2 L2121.2 4076.2 L2125.2 4076.3 L2129.2 4076.3 L2133.2 4076.3 L2137.2 4076.3 L2141 4076.3" fill="none" stroke="#000" stroke-width="3.8" stroke-linejoin="round"/>
<path d="M322.4 4074.8 L325.2 4063.3 L328.6 4076.6 L331.7 4064.5 L334 4077.5 L336.3 4064.9 L338.6 4076.7 L341.6 4067 L344 4076.9 L347.3 4067.7 L350.6 4077.3 L354.5 4062.8 L358.3 4077.1 L360.7 4063.1 L363.5 4078.1 L366 4065.7 L369.4 4077.2 L372.6 4062.8 L374.9 4076.9 L378.3 4064.9 L381 4077.7 L384.1 4064.1 L387.7 4077.9 L390.3 4065.7 L393.5 4078.3 L397 4064.1 L401 4076.7 L403.9 4066.7 L406.4 4077.5 L408.7 4066.2 L412.2 4077.6 L416 4064.2 L419.5 4077.7 L422.7 4065 L426.4 4078.4 L429.5 4066.2 L431.8 4077.9 L435.1 4068 L438.8 4077.1 L441.7 4066.2 L444 4077.4 L446.5 4063.1 L448.8 4078 L451.2 4063.9 L454.1 4078.2 L456.4 4065 L459.6 4078.3 L463.3 4067.3 L466 4077.3 L468.9 4067.4 L472.8 4076.8 L475.3 4063.8 L477.9 4077.5 L481.2 4063.9 L483.4 4077.3 L486.2 4065.6 L490.2 4077.9 L491.6 4070 L496.3 4060.7 L504.8 4056.9 L511.4 4061.6 L519 4043.6 L524.7 4055 L534.2 4045.5 L546.5 4038 L553.1 4043.6 L560 4050.3 L572.2 4064.6 L580 4052 L589.7 4042.8 L601.3 4038.4 L605.3 4039 L609.3 4039.5 L613.3 4040.1 L617.3 4040.6 L621.3 4041.2 L625.3 4041.7 L629.3 4042.3 L633.3 4042.8 L637.3 4043.3 L641.3 4043.9 L645.3 4044.3 L649.3 4044.8 L653.3 4045.3 L657.3 4045.8 L661.3 4046.2 L665.3 4046.7 L669.3 4047.2 L673.3 4047.6 L677.3 4048.1 L681.3 4048.5 L685.3 4049 L689.3 4049.4 L693.3 4049.8 L697.3 4050.3 L701.3 4050.7 L705.3 4051.1 L709.3 4051.5 L713.3 4052 L717.3 4052.4 L721.3 4052.8 L725.3 4053.2 L729.3 4053.6 L733.3 4054 L737.3 4054.4 L741.3 4054.8 L745.3 4055.1 L749.3 4055.5 L753.3 4055.9 L757.3 4056.3 L761.3 4056.6 L765.3 4057 L769.3 4057.4 L773.3 4057.7 L777.3 4058.1 L781.3 4058.4 L785.3 4058.8 L789.3 4059.1 L793.3 4059.4 L797.3 4059.8 L801.3 4060.1 L805.3 4060.4 L809.3 4060.8 L813.3 4061.1 L817.3 4061.4 L821.3 4061.7 L825.3 4062 L829.3 4062.3 L833.3 4062.6 L837.3 4062.9 L841.3 4063.2 L845.3 4063.5 L849.3 4063.8 L853.3 4064.1 L857.3 4064.4 L861.3 4064.6 L865.3 4064.9 L869.3 4065.2 L873.3 4065.4 L877.3 4065.7 L881.3 4066 L885.3 4066.2 L889.3 4066.5 L893.3 4066.7 L897.3 4067 L901.3 4067.2 L905.3 4067.5 L909.3 4067.7 L913.3 4067.9 L917.3 4068.2 L921.3 4068.4 L925.3 4068.6 L929.3 4068.8 L933.3 4069.1 L937.3 4069.3 L941.3 4069.5 L945.3 4069.7 L949.3 4069.9 L953.3 4070.1 L957.3 4070.3 L961.3 4070.5 L965.3 4070.7 L969.3 4070.9 L973.3 4071.1 L977.3 4071.3 L981.3 4071.5 L985.3 4071.6 L989.3 4071.8 L993.3 4072 L997.3 4072.2 L1001.3 4072.3 L1005.3 4072.5 L1009.3 4072.7 L1013.3 4072.8 L1017.3 4073 L1021.3 4073.2 L1025.3 4073.3 L1029.3 4073.5 L1033.3 4073.6 L1037.3 4073.8 L1041.3 4073.9 L1045.3 4074 L1049.3 4074.2 L1053.3 4074.3 L1057.3 4074.4 L1061.3 4074.6 L1065.3 4074.7 L1069.3 4074.8 L1073.3 4075 L1077.3 4075.1 L1081.3 4075.2 L1085.3 4075.3 L1089.3 4075.4 L1093.3 4075.5 L1097.3 4075.6 L1101.3 4075.8 L1105.3 4075.9 L1109.3 4076 L1113.3 4076.1 L1117.3 4076.2 L1121.3 4076.3 L1125.3 4076.3 L1129.3 4076.4 L1133.3 4076.5 L1137.3 4076.6 L1141.3 4076.7 L1145.3 4076.8 L1149.3 4076.9 L1153.3 4076.9 L1157.3 4077 L1161.3 4077.1 L1165.3 4077.2 L1169.3 4077.2 L1173.3 4077.3 L1177.3 4077.4 L1181.3 4077.4 L1185.3 4077.5 L1189.3 4077.6 L1193.3 4077.6 L1197.3 4077.7 L1201.3 4077.7 L1205.3 4077.8 L1209.3 4077.8 L1213.3 4077.9 L1217.3 4077.9 L1221.3 4078 L1225.3 4078 L1229.3 4078.1 L1233.3 4078.1 L1237.3 4078.2 L1241.3 4078.2 L1245.3 4078.2 L1249.3 4078.3 L1253.3 4078.3 L1257.3 4078.3 L1261.3 4078.4 L1265.3 4078.4 L1269.3 4078.4 L1273.3 4078.5 L1277.3 4078.5 L1281.3 4078.5 L1285.3 4078.5 L1289.3 4078.5 L1293.3 4078.6 L1297.3 4078.6 L1301.3 4078.6 L1305.3 4078.6 L1309.3 4078.6 L1313.3 4078.6 L1317.3 4078.6 L1321.3 4078.6 L1325.3 4078.7 L1329.3 4078.7 L1333.3 4078.7 L1337.3 4078.7 L1341.3 4078.7 L1345.3 4078.7 L1349.3 4078.7 L1353.3 4078.7 L1357.3 4078.7 L1361.3 4078.7 L1365.3 4078.7 L1369.3 4078.7 L1373.3 4078.7 L1377.3 4078.7 L1381.3 4078.6 L1385.3 4078.6 L1389.3 4078.6 L1393.3 4078.6 L1397.3 4078.6 L1401.3 4078.6 L1405.3 4078.6 L1409.3 4078.6 L1413.3 4078.5 L1417.3 4078.5 L1421.3 4078.5 L1425.3 4078.5 L1429.3 4078.5 L1433.3 4078.5 L1437.3 4078.4 L1441.3 4078.4 L1445.3 4078.4 L1449.3 4078.4 L1453.3 4078.3 L1457.3 4078.3 L1461.3 4078.3 L1465.3 4078.3 L1469.3 4078.2 L1473.3 4078.2 L1477.3 4078.2 L1481.3 4078.2 L1485.3 4078.1 L1489.3 4078.1 L1493.3 4078.1 L1497.3 4078.1 L1501.3 4078 L1505.3 4078 L1509.3 4078 L1513.3 4077.9 L1517.3 4077.9 L1521.3 4077.9 L1525.3 4077.8 L1529.3 4077.8 L1533.3 4077.8 L1537.3 4077.7 L1541.3 4077.7 L1545.3 4077.7 L1549.3 4077.6 L1553.3 4077.6 L1557.3 4077.6 L1561.3 4077.5 L1565.3 4077.5 L1569.3 4077.5 L1573.3 4077.4 L1577.3 4077.4 L1581.3 4077.4 L1585.3 4077.3 L1589.3 4077.3 L1593.3 4077.2 L1597.3 4077.2 L1601.3 4077.2 L1605.3 4077.1 L1609.3 4077.1 L1613.3 4077.1 L1617.3 4077 L1621.3 4077 L1625.3 4077 L1629.3 4076.9 L1633.3 4076.9 L1637.3 4076.9 L1641.3 4076.8 L1645.3 4076.8 L1649.3 4076.8 L1653.3 4076.7 L1657.3 4076.7 L1661.3 4076.7 L1665.3 4076.6 L1669.3 4076.6 L1673.3 4076.6 L1677.3 4076.5 L1681.3 4076.5 L1685.3 4076.5 L1689.3 4076.4 L1693.3 4076.4 L1697.3 4076.4 L1701.3 4076.3 L1705.3 4076.3 L1709.3 4076.3 L1713.3 4076.3 L1717.3 4076.2 L1721.3 4076.2 L1725.3 4076.2 L1729.3 4076.1 L1733.3 4076.1 L1737.3 4076.1 L1741.3 4076.1 L1745.3 4076 L1749.3 4076 L1753.3 4076 L1757.3 4076 L1761.3 4076 L1765.3 4075.9 L1769.3 4075.9 L1773.3 4075.9 L1777.3 4075.9 L1781.3 4075.9 L1785.3 4075.8 L1789.3 4075.8 L1793.3 4075.8 L1797.3 4075.8 L1801.3 4075.8 L1805.3 4075.8 L1809.3 4075.8 L1813.3 4075.8 L1817.3 4075.8 L1821.3 4075.7 L1825.3 4075.7 L1829.3 4075.7 L1833.3 4075.7 L1837.3 4075.7 L1841.3 4075.7 L1845.3 4075.7 L1849.3 4075.7 L1853.3 4075.7 L1857.3 4075.7 L1861.3 4075.7 L1865.3 4075.7 L1869.3 4075.7 L1873.3 4075.7 L1877.3 4075.7 L1881.3 4075.8 L1885.3 4075.8 L1889.3 4075.8 L1893.3 4075.8 L1897.3 4075.8 L1901.3 4075.8 L1905.3 4075.8 L1909.3 4075.9 L1913.3 4075.9 L1917.3 4075.9 L1921.3 4075.9 L1925.3 4075.9 L1929.3 4076 L1933.3 4076 L1937.3 4076 L1941.3 4076.1 L1945.3 4076.1 L1949.3 4076.1 L1953.3 4076.2 L1957.3 4076.2 L1961.3 4076.2 L1965.3 4076.3 L1969.3 4076.3 L1973.3 4076.4 L1977.3 4076.4 L1981.3 4076.5 L1985.3 4076.5 L1989.3 4076.6 L1993.3 4076.6 L1997.3 4076.7 L2001.3 4076.7 L2005.3 4076.8 L2009.3 4076.8 L2013.3 4076.9 L2017.3 4077 L2021.3 4077 L2025.3 4077.1 L2029.3 4077.2 L2033.3 4077.2 L2037.3 4077.3 L2041.3 4077.4 L2045.3 4077.5 L2049.3 4077.5 L2053.3 4077.6 L2057.3 4077.7 L2061.3 4077.8 L2065.3 4077.9 L2069.3 4078 L2073.3 4078.1 L2077.3 4078.2 L2081.3 4078.3 L2085.3 4078.4 L2089.3 4078.5 L2093.3 4078.6 L2097.3 4078.7 L2101.3 4078.8 L2105.3 4078.9 L2109.3 4079 L2113.3 4079.1 L2117.3 4079.2 L2121.3 4079.3 L2125.3 4079.5 L2129.3 4079.6 L2133.3 4079.7 L2137.3 4079.8 L2141 4080" fill="none" stroke="#d41414" stroke-width="3.8" stroke-linejoin="round"/>
<path d="M322.4 4052 L323.7 4054.6 L329.9 4060.7 L336 4056 L343 4053.7 L348.2 4059.8 L356.1 4056.3 L362.2 4060.7 L369.2 4056.3 L377.9 4059 L385.8 4045.8 L390.2 4052 L393.7 4059 L398 4075 L402 4070 L407 4062 L411.2 4059 L419.9 4058.1 L428.6 4050.2 L435 4053.7 L437.6 4060.7 L444.2 4057.8 L452.7 4046.5 L461.3 4056 L469.8 4056 L477.3 4048.4 L485.9 4057.8 L491.6 4050.3 L498.2 4029.4 L503.9 4001 L507.7 3977.3 L512.4 3961.3 L519 3957.5 L524.7 3949.9 L530.4 3956.5 L537 3948 L542.7 3960.3 L549.3 3955.6 L555 3961.3 L560.5 3962 L564.5 3964.1 L568.5 3966.1 L572.5 3968.1 L576.5 3970 L580.5 3971.9 L584.5 3973.8 L588.5 3975.7 L592.5 3977.5 L596.5 3979.3 L600.5 3981 L604.5 3982.7 L608.5 3984.3 L612.5 3986 L616.5 3987.5 L620.5 3989.1 L624.5 3990.6 L628.5 3992.1 L632.5 3993.6 L636.5 3995 L640.5 3996.4 L644.5 3997.8 L648.5 3999.2 L652.5 4000.5 L656.5 4001.8 L660.5 4003.1 L664.5 4004.4 L668.5 4005.6 L672.5 4006.8 L676.5 4008 L680.5 4009.2 L684.5 4010.4 L688.5 4011.5 L692.5 4012.6 L696.5 4013.7 L700.5 4014.8 L704.5 4015.8 L708.5 4016.9 L712.5 4017.9 L716.5 4018.9 L720.5 4019.9 L724.5 4020.9 L728.5 4021.8 L732.5 4022.7 L736.5 4023.7 L740.5 4024.6 L744.5 4025.5 L748.5 4026.3 L752.5 4027.2 L756.5 4028 L760.5 4028.8 L764.5 4029.6 L768.5 4030.4 L772.5 4031.2 L776.5 4032 L780.5 4032.7 L784.5 4033.5 L788.5 4034.2 L792.5 4034.9 L796.5 4035.6 L800.5 4036.3 L804.5 4037 L808.5 4037.6 L812.5 4038.3 L816.5 4038.9 L820.5 4039.5 L824.5 4040.2 L828.5 4040.8 L832.5 4041.4 L836.5 4041.9 L840.5 4042.5 L844.5 4043.1 L848.5 4043.6 L852.5 4044.2 L856.5 4044.7 L860.5 4045.2 L864.5 4045.7 L868.5 4046.2 L872.5 4046.7 L876.5 4047.2 L880.5 4047.7 L884.5 4048.2 L888.5 4048.7 L892.5 4049.1 L896.5 4049.6 L900.5 4050 L904.5 4050.5 L908.5 4050.9 L912.5 4051.3 L916.5 4051.7 L920.5 4052.1 L924.5 4052.6 L928.5 4053 L932.5 4053.4 L936.5 4053.8 L940.5 4054.1 L944.5 4054.5 L948.5 4054.9 L952.5 4055.3 L956.5 4055.6 L960.5 4056 L964.5 4056.3 L968.5 4056.7 L972.5 4057 L976.5 4057.4 L980.5 4057.7 L984.5 4058 L988.5 4058.4 L992.5 4058.7 L996.5 4059 L1000.5 4059.3 L1004.5 4059.6 L1008.5 4059.9 L1012.5 4060.2 L1016.5 4060.5 L1020.5 4060.8 L1024.5 4061.1 L1028.5 4061.3 L1032.5 4061.6 L1036.5 4061.9 L1040.5 4062.1 L1044.5 4062.4 L1048.5 4062.7 L1052.5 4062.9 L1056.5 4063.1 L1060.5 4063.4 L1064.5 4063.6 L1068.5 4063.9 L1072.5 4064.1 L1076.5 4064.3 L1080.5 4064.5 L1084.5 4064.7 L1088.5 4065 L1092.5 4065.2 L1096.5 4065.4 L1100.5 4065.6 L1104.5 4065.8 L1108.5 4066 L1112.5 4066.1 L1116.5 4066.3 L1120.5 4066.5 L1124.5 4066.7 L1128.5 4066.9 L1132.5 4067 L1136.5 4067.2 L1140.5 4067.4 L1144.5 4067.5 L1148.5 4067.7 L1152.5 4067.8 L1156.5 4068 L1160.5 4068.2 L1164.5 4068.3 L1168.5 4068.4 L1172.5 4068.6 L1176.5 4068.7 L1180.5 4068.8 L1184.5 4069 L1188.5 4069.1 L1192.5 4069.2 L1196.5 4069.4 L1200.5 4069.5 L1204.5 4069.6 L1208.5 4069.7 L1212.5 4069.8 L1216.5 4069.9 L1220.5 4070 L1224.5 4070.1 L1228.5 4070.2 L1232.5 4070.3 L1236.5 4070.4 L1240.5 4070.5 L1244.5 4070.6 L1248.5 4070.7 L1252.5 4070.8 L1256.5 4070.9 L1260.5 4071 L1264.5 4071.1 L1268.5 4071.1 L1272.5 4071.2 L1276.5 4071.3 L1280.5 4071.4 L1284.5 4071.5 L1288.5 4071.5 L1292.5 4071.6 L1296.5 4071.7 L1300.5 4071.7 L1304.5 4071.8 L1308.5 4071.9 L1312.5 4071.9 L1316.5 4072 L1320.5 4072 L1324.5 4072.1 L1328.5 4072.2 L1332.5 4072.2 L1336.5 4072.3 L1340.5 4072.3 L1344.5 4072.4 L1348.5 4072.4 L1352.5 4072.5 L1356.5 4072.5 L1360.5 4072.6 L1364.5 4072.6 L1368.5 4072.7 L1372.5 4072.7 L1376.5 4072.8 L1380.5 4072.8 L1384.5 4072.9 L1388.5 4072.9 L1392.5 4073 L1396.5 4073 L1400.5 4073 L1404.5 4073.1 L1408.5 4073.1 L1412.5 4073.2 L1416.5 4073.2 L1420.5 4073.2 L1424.5 4073.3 L1428.5 4073.3 L1432.5 4073.3 L1436.5 4073.4 L1440.5 4073.4 L1444.5 4073.5 L1448.5 4073.5 L1452.5 4073.5 L1456.5 4073.6 L1460.5 4073.6 L1464.5 4073.6 L1468.5 4073.6 L1472.5 4073.7 L1476.5 4073.7 L1480.5 4073.7 L1484.5 4073.8 L1488.5 4073.8 L1492.5 4073.8 L1496.5 4073.9 L1500.5 4073.9 L1504.5 4073.9 L1508.5 4073.9 L1512.5 4074 L1516.5 4074 L1520.5 4074 L1524.5 4074 L1528.5 4074.1 L1532.5 4074.1 L1536.5 4074.1 L1540.5 4074.1 L1544.5 4074.1 L1548.5 4074.2 L1552.5 4074.2 L1556.5 4074.2 L1560.5 4074.2 L1564.5 4074.2 L1568.5 4074.3 L1572.5 4074.3 L1576.5 4074.3 L1580.5 4074.3 L1584.5 4074.3 L1588.5 4074.4 L1592.5 4074.4 L1596.5 4074.4 L1600.5 4074.4 L1604.5 4074.4 L1608.5 4074.4 L1612.5 4074.4 L1616.5 4074.5 L1620.5 4074.5 L1624.5 4074.5 L1628.5 4074.5 L1632.5 4074.5 L1636.5 4074.5 L1640.5 4074.5 L1644.5 4074.6 L1648.5 4074.6 L1652.5 4074.6 L1656.5 4074.6 L1660.5 4074.6 L1664.5 4074.6 L1668.5 4074.6 L1672.5 4074.6 L1676.5 4074.6 L1680.5 4074.7 L1684.5 4074.7 L1688.5 4074.7 L1692.5 4074.7 L1696.5 4074.7 L1700.5 4074.7 L1704.5 4074.7 L1708.5 4074.7 L1712.5 4074.7 L1716.5 4074.7 L1720.5 4074.7 L1724.5 4074.7 L1728.5 4074.8 L1732.5 4074.8 L1736.5 4074.8 L1740.5 4074.8 L1744.5 4074.8 L1748.5 4074.8 L1752.5 4074.8 L1756.5 4074.8 L1760.5 4074.8 L1764.5 4074.8 L1768.5 4074.8 L1772.5 4074.8 L1776.5 4074.8 L1780.5 4074.8 L1784.5 4074.8 L1788.5 4074.8 L1792.5 4074.9 L1796.5 4074.9 L1800.5 4074.9 L1804.5 4074.9 L1808.5 4074.9 L1812.5 4074.9 L1816.5 4074.9 L1820.5 4074.9 L1824.5 4074.9 L1828.5 4074.9 L1832.5 4074.9 L1836.5 4074.9 L1840.5 4074.9 L1844.5 4074.9 L1848.5 4074.9 L1852.5 4074.9 L1856.5 4074.9 L1860.5 4074.9 L1864.5 4074.9 L1868.5 4074.9 L1872.5 4074.9 L1876.5 4075 L1880.5 4075 L1884.5 4075 L1888.5 4075 L1892.5 4075 L1896.5 4075 L1900.5 4075 L1904.5 4075 L1908.5 4075 L1912.5 4075 L1916.5 4075 L1920.5 4075 L1924.5 4075 L1928.5 4075 L1932.5 4075 L1936.5 4075 L1940.5 4075 L1944.5 4075 L1948.5 4075.1 L1952.5 4075.1 L1956.5 4075.1 L1960.5 4075.1 L1964.5 4075.1 L1968.5 4075.1 L1972.5 4075.1 L1976.5 4075.1 L1980.5 4075.1 L1984.5 4075.1 L1988.5 4075.1 L1992.5 4075.1 L1996.5 4075.1 L2000.5 4075.2 L2004.5 4075.2 L2008.5 4075.2 L2012.5 4075.2 L2016.5 4075.2 L2020.5 4075.2 L2024.5 4075.2 L2028.5 4075.2 L2032.5 4075.2 L2036.5 4075.3 L2040.5 4075.3 L2044.5 4075.3 L2048.5 4075.3 L2052.5 4075.3 L2056.5 4075.3 L2060.5 4075.3 L2064.5 4075.3 L2068.5 4075.4 L2072.5 4075.4 L2076.5 4075.4 L2080.5 4075.4 L2084.5 4075.4 L2088.5 4075.4 L2092.5 4075.4 L2096.5 4075.5 L2100.5 4075.5 L2104.5 4075.5 L2108.5 4075.5 L2112.5 4075.5 L2116.5 4075.5 L2120.5 4075.6 L2124.5 4075.6 L2128.5 4075.6 L2132.5 4075.6 L2136.5 4075.6 L2140.5 4075.7 L2141 4075.7" fill="none" stroke="#1b6aa8" stroke-width="3.8" stroke-linejoin="round"/>
<text class="r" x="294.1" y="124.5" font-size="84" text-anchor="end">2.5</text>
<text class="r" x="294" y="331.5" font-size="84" text-anchor="end">2.0</text>
<text class="r" x="294.1" y="540" font-size="84" text-anchor="end">1.5</text>
<text class="r" x="294" y="748" font-size="84" text-anchor="end">1.0</text>
<text class="r" x="294.1" y="954" font-size="84" text-anchor="end">0.5</text>
<text class="r" x="294" y="1160.5" font-size="84" text-anchor="end">0.0</text>
<text class="r" x="294.1" y="1605.5" font-size="84" text-anchor="end">2.5</text>
<text class="r" x="294" y="1812" font-size="84" text-anchor="end">2.0</text>
<text class="r" x="294.1" y="2021" font-size="84" text-anchor="end">1.5</text>
<text class="r" x="294" y="2228" font-size="84" text-anchor="end">1.0</text>
<text class="r" x="294.1" y="2434.5" font-size="84" text-anchor="end">0.5</text>
<text class="r" x="294" y="2642" font-size="84" text-anchor="end">0.0</text>
<text class="r" x="294.1" y="3034.5" font-size="84" text-anchor="end">2.5</text>
<text class="r" x="294" y="3242.5" font-size="84" text-anchor="end">2.0</text>
<text class="r" x="294.1" y="3449.5" font-size="84" text-anchor="end">1.5</text>
<text class="r" x="294" y="3657.5" font-size="84" text-anchor="end">1.0</text>
<text class="r" x="294.1" y="3864.5" font-size="84" text-anchor="end">0.5</text>
<text class="r" x="294" y="4072" font-size="84" text-anchor="end">0.0</text>
<text x="278.9" y="1278" font-size="84" class="r">250</text>
<text x="884.5" y="1278" font-size="84" class="r">350</text>
<text x="1491.2" y="1278" font-size="84" class="r">450</text>
<text x="2095.7" y="1278" font-size="84" class="r">550</text>
<text x="278.9" y="2785.5" font-size="84" class="r">250</text>
<text x="884.5" y="2785.5" font-size="84" class="r">350</text>
<text x="1491.2" y="2785.5" font-size="84" class="r">450</text>
<text x="2095.7" y="2785.5" font-size="84" class="r">550</text>
<text x="278.9" y="4160.7" font-size="84" class="r">250</text>
<text x="884.5" y="4160.7" font-size="84" class="r">350</text>
<text x="1491.2" y="4160.7" font-size="84" class="r">450</text>
<text x="2095.7" y="4160.7" font-size="84" class="r">550</text>
<text x="970.1" y="1362.5" font-size="84" font-weight="bold" textLength="615.5" lengthAdjust="spacingAndGlyphs">Wavelength (nm)</text>
<text x="970.1" y="2869.8" font-size="84" font-weight="bold" textLength="615.5" lengthAdjust="spacingAndGlyphs">Wavelength (nm)</text>
<text x="970.1" y="4244.3" font-size="84" font-weight="bold" textLength="615.5" lengthAdjust="spacingAndGlyphs">Wavelength (nm)</text>
<text transform="translate(134.5 904.2) rotate(-90)" font-size="84" font-weight="bold" textLength="635.1" lengthAdjust="spacingAndGlyphs">Absorbance (a.u.)</text>
<text transform="translate(134.5 2383.8) rotate(-90)" font-size="84" font-weight="bold" textLength="633.6" lengthAdjust="spacingAndGlyphs">Absorbance (a.u.)</text>
<text transform="translate(134.5 3814.8) rotate(-90)" font-size="84" font-weight="bold" textLength="635" lengthAdjust="spacingAndGlyphs">Absorbance (a.u.)</text>
<text x="1979" y="177.5" font-size="205" class="r" textLength="145.5" lengthAdjust="spacingAndGlyphs">A</text>
<text x="1982.3" y="1731.5" font-size="204" class="r" textLength="136.1" lengthAdjust="spacingAndGlyphs">B</text>
<text x="1983.3" y="3087.5" font-size="208" class="r" textLength="140.3" lengthAdjust="spacingAndGlyphs">C</text>
<line x1="1209.1" y1="199" x2="1273.5" y2="199" stroke="#1b6aa8" stroke-width="7.6" stroke-linecap="round"/>
<text x="1321.4" y="215.8" font-size="85" class="r" textLength="409.6" lengthAdjust="spacingAndGlyphs">PES 6 h UV</text>
<line x1="1209.1" y1="335.9" x2="1273.5" y2="335.9" stroke="#000" stroke-width="7.6" stroke-linecap="round"/>
<text x="1321.4" y="354" font-size="85" class="r" textLength="409.6" lengthAdjust="spacingAndGlyphs">PES 3 h UV</text>
<line x1="1206.5" y1="474.2" x2="1281.8" y2="474.2" stroke="#000" stroke-width="6.4" stroke-dasharray="18 3.8"/>
<text x="1321.4" y="491.8" font-size="85" class="r" textLength="635.4" lengthAdjust="spacingAndGlyphs">PES TEOS 3 h UV</text>
<line x1="1209.1" y1="611.3" x2="1273.5" y2="611.3" stroke="#9c1e8c" stroke-width="7.6" stroke-linecap="round"/>
<text x="1321.4" y="630.6" font-size="85" class="r" textLength="469.3" lengthAdjust="spacingAndGlyphs">PESG 3 h UV</text>
<line x1="1209.1" y1="750.5" x2="1273.5" y2="750.5" stroke="#d41414" stroke-width="7.6" stroke-linecap="round"/>
<text x="1321.4" y="767.6" font-size="85" class="r" textLength="503.7" lengthAdjust="spacingAndGlyphs">PES−T 6 h UV</text>
<line x1="1209.1" y1="890.5" x2="1273.5" y2="890.5" stroke="#1da050" stroke-width="7.6" stroke-linecap="round"/>
<text x="1321.4" y="908.1" font-size="85" class="r" textLength="321.5" lengthAdjust="spacingAndGlyphs">Blank 6 h</text>
<line x1="1569.3" y1="1898.2" x2="1633.7" y2="1898.2" stroke="#1b6aa8" stroke-width="7.6" stroke-linecap="round"/>
<text x="1686.6" y="1927.5" font-size="85.5" class="r" textLength="387.1" lengthAdjust="spacingAndGlyphs">DK 6 h UV</text>
<line x1="1569.3" y1="2061.5" x2="1633.7" y2="2061.5" stroke="#000" stroke-width="7.6" stroke-linecap="round"/>
<text x="1686.6" y="2091.3" font-size="85.5" class="r" textLength="384.9" lengthAdjust="spacingAndGlyphs">DK 3 h UV</text>
<line x1="1569.3" y1="2228.5" x2="1633.7" y2="2228.5" stroke="#d41414" stroke-width="7.6" stroke-linecap="round"/>
<text x="1686.6" y="2252.9" font-size="85.5" class="r" textLength="485.6" lengthAdjust="spacingAndGlyphs">DK−T 6 h UV</text>
<line x1="1569.3" y1="2391.2" x2="1633.7" y2="2391.2" stroke="#1da050" stroke-width="7.6" stroke-linecap="round"/>
<text x="1686.6" y="2415.6" font-size="85.5" class="r" textLength="327.5" lengthAdjust="spacingAndGlyphs">Blank 6 h</text>
<line x1="1589.6" y1="3307.2" x2="1653.2" y2="3307.2" stroke="#1b6aa8" stroke-width="7.6" stroke-linecap="round"/>
<text x="1693.1" y="3331" font-size="84.3" class="r" textLength="401" lengthAdjust="spacingAndGlyphs">BW 6 h UV</text>
<line x1="1589.6" y1="3448.9" x2="1653.2" y2="3448.9" stroke="#000" stroke-width="7.6" stroke-linecap="round"/>
<text x="1693.1" y="3471.8" font-size="84.3" class="r" textLength="397.6" lengthAdjust="spacingAndGlyphs">BW 3 h UV</text>
<line x1="1589.6" y1="3595.1" x2="1653.2" y2="3595.1" stroke="#d41414" stroke-width="7.6" stroke-linecap="round"/>
<text x="1693.1" y="3612.6" font-size="84.3" class="r" textLength="517.8" lengthAdjust="spacingAndGlyphs">BW−T 6  h UV</text>
<line x1="1589.6" y1="3736.8" x2="1653.2" y2="3736.8" stroke="#1da050" stroke-width="7.6" stroke-linecap="round"/>
<text x="1693.1" y="3753.4" font-size="84.3" class="r" textLength="323.5" lengthAdjust="spacingAndGlyphs">Blank 6 h</text>
</svg>
</body></html>
